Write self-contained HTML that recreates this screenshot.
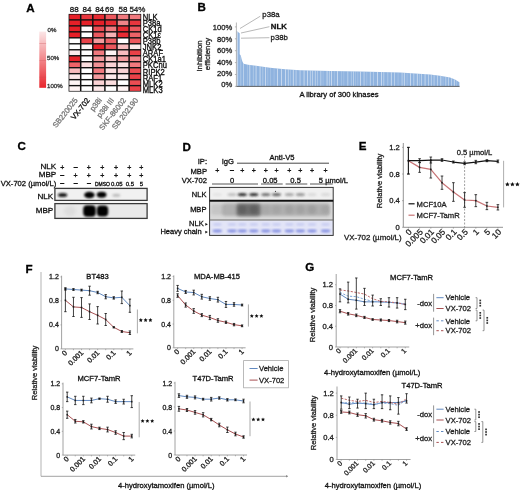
<!DOCTYPE html><html><head><meta charset="utf-8"><style>html,body{margin:0;padding:0;background:#fff;}svg{display:block;font-family:"Liberation Sans", sans-serif;filter:blur(0.35px);} text{stroke-width:0.3px;}</style></head><body>
<svg width="520" height="490" viewBox="0 0 520 490">
<rect width="520" height="490" fill="#fff"/>
<text x="26.30" y="11.60" font-size="11.6" text-anchor="start" fill="#000" font-weight="bold"  stroke="#000">A</text>
<defs><linearGradient id="cbar" x1="0" y1="0" x2="0" y2="1"><stop offset="0" stop-color="#fbe6e7"/><stop offset="1" stop-color="#e8252c"/></linearGradient></defs>
<rect x="39.30" y="31.60" width="6.80" height="56.20" fill="url(#cbar)" stroke="none" stroke-width="1" />
<line x1="39.30" y1="43.50" x2="46.10" y2="43.50" stroke="#c84a50" stroke-width="0.6" opacity="0.5"/>
<line x1="39.30" y1="60.70" x2="46.10" y2="60.70" stroke="#c84a50" stroke-width="0.6" opacity="0.5"/>
<line x1="39.30" y1="77.20" x2="46.10" y2="77.20" stroke="#c84a50" stroke-width="0.6" opacity="0.5"/>
<text x="47.60" y="31.80" font-size="6.1" text-anchor="start" fill="#333" font-weight="normal"  stroke="#333">0%</text>
<text x="47.10" y="59.70" font-size="6.1" text-anchor="start" fill="#333" font-weight="normal"  stroke="#333">50%</text>
<text x="47.10" y="88.10" font-size="6.1" text-anchor="start" fill="#333" font-weight="normal"  stroke="#333">100%</text>
<rect x="68.60" y="13.90" width="72.60" height="77.70" fill="#111" stroke="none" stroke-width="1" />
<rect x="69.35" y="14.60" width="10.60" height="4.58" fill="rgb(230,32,40)" stroke="none" stroke-width="1" />
<rect x="81.45" y="14.60" width="10.60" height="4.58" fill="rgb(232,54,62)" stroke="none" stroke-width="1" />
<rect x="93.55" y="14.60" width="10.60" height="4.58" fill="rgb(231,43,51)" stroke="none" stroke-width="1" />
<rect x="105.65" y="14.60" width="10.60" height="4.58" fill="rgb(236,88,94)" stroke="none" stroke-width="1" />
<rect x="117.75" y="14.60" width="10.60" height="4.58" fill="rgb(240,121,126)" stroke="none" stroke-width="1" />
<rect x="129.85" y="14.60" width="10.60" height="4.58" fill="rgb(240,121,126)" stroke="none" stroke-width="1" />
<rect x="69.35" y="20.58" width="10.60" height="4.58" fill="rgb(230,32,40)" stroke="none" stroke-width="1" />
<rect x="81.45" y="20.58" width="10.60" height="4.58" fill="rgb(230,32,40)" stroke="none" stroke-width="1" />
<rect x="93.55" y="20.58" width="10.60" height="4.58" fill="rgb(230,32,40)" stroke="none" stroke-width="1" />
<rect x="105.65" y="20.58" width="10.60" height="4.58" fill="rgb(231,43,51)" stroke="none" stroke-width="1" />
<rect x="117.75" y="20.58" width="10.60" height="4.58" fill="rgb(241,132,137)" stroke="none" stroke-width="1" />
<rect x="129.85" y="20.58" width="10.60" height="4.58" fill="rgb(232,54,62)" stroke="none" stroke-width="1" />
<rect x="69.35" y="26.55" width="10.60" height="4.58" fill="rgb(230,32,40)" stroke="none" stroke-width="1" />
<rect x="81.45" y="26.55" width="10.60" height="4.58" fill="rgb(254,248,249)" stroke="none" stroke-width="1" />
<rect x="93.55" y="26.55" width="10.60" height="4.58" fill="rgb(235,77,83)" stroke="none" stroke-width="1" />
<rect x="105.65" y="26.55" width="10.60" height="4.58" fill="rgb(240,121,126)" stroke="none" stroke-width="1" />
<rect x="117.75" y="26.55" width="10.60" height="4.58" fill="rgb(231,43,51)" stroke="none" stroke-width="1" />
<rect x="129.85" y="26.55" width="10.60" height="4.58" fill="rgb(236,88,94)" stroke="none" stroke-width="1" />
<rect x="69.35" y="32.53" width="10.60" height="4.58" fill="rgb(230,32,40)" stroke="none" stroke-width="1" />
<rect x="81.45" y="32.53" width="10.60" height="4.58" fill="rgb(255,255,255)" stroke="none" stroke-width="1" />
<rect x="93.55" y="32.53" width="10.60" height="4.58" fill="rgb(236,88,94)" stroke="none" stroke-width="1" />
<rect x="105.65" y="32.53" width="10.60" height="4.58" fill="rgb(246,177,180)" stroke="none" stroke-width="1" />
<rect x="117.75" y="32.53" width="10.60" height="4.58" fill="rgb(231,43,51)" stroke="none" stroke-width="1" />
<rect x="129.85" y="32.53" width="10.60" height="4.58" fill="rgb(238,99,104)" stroke="none" stroke-width="1" />
<rect x="69.35" y="38.51" width="10.60" height="4.58" fill="rgb(255,255,255)" stroke="none" stroke-width="1" />
<rect x="81.45" y="38.51" width="10.60" height="4.58" fill="rgb(234,65,72)" stroke="none" stroke-width="1" />
<rect x="93.55" y="38.51" width="10.60" height="4.58" fill="rgb(244,155,158)" stroke="none" stroke-width="1" />
<rect x="105.65" y="38.51" width="10.60" height="4.58" fill="rgb(238,99,104)" stroke="none" stroke-width="1" />
<rect x="117.75" y="38.51" width="10.60" height="4.58" fill="rgb(255,255,255)" stroke="none" stroke-width="1" />
<rect x="129.85" y="38.51" width="10.60" height="4.58" fill="rgb(236,88,94)" stroke="none" stroke-width="1" />
<rect x="69.35" y="44.48" width="10.60" height="4.58" fill="rgb(255,255,255)" stroke="none" stroke-width="1" />
<rect x="81.45" y="44.48" width="10.60" height="4.58" fill="rgb(254,244,244)" stroke="none" stroke-width="1" />
<rect x="93.55" y="44.48" width="10.60" height="4.58" fill="rgb(230,32,40)" stroke="none" stroke-width="1" />
<rect x="105.65" y="44.48" width="10.60" height="4.58" fill="rgb(236,88,94)" stroke="none" stroke-width="1" />
<rect x="117.75" y="44.48" width="10.60" height="4.58" fill="rgb(248,188,190)" stroke="none" stroke-width="1" />
<rect x="129.85" y="44.48" width="10.60" height="4.58" fill="rgb(252,233,234)" stroke="none" stroke-width="1" />
<rect x="69.35" y="50.46" width="10.60" height="4.58" fill="rgb(252,233,234)" stroke="none" stroke-width="1" />
<rect x="81.45" y="50.46" width="10.60" height="4.58" fill="rgb(255,255,255)" stroke="none" stroke-width="1" />
<rect x="93.55" y="50.46" width="10.60" height="4.58" fill="rgb(240,121,126)" stroke="none" stroke-width="1" />
<rect x="105.65" y="50.46" width="10.60" height="4.58" fill="rgb(254,244,244)" stroke="none" stroke-width="1" />
<rect x="117.75" y="50.46" width="10.60" height="4.58" fill="rgb(248,188,190)" stroke="none" stroke-width="1" />
<rect x="129.85" y="50.46" width="10.60" height="4.58" fill="rgb(234,65,72)" stroke="none" stroke-width="1" />
<rect x="69.35" y="56.44" width="10.60" height="4.58" fill="rgb(230,32,40)" stroke="none" stroke-width="1" />
<rect x="81.45" y="56.44" width="10.60" height="4.58" fill="rgb(255,255,255)" stroke="none" stroke-width="1" />
<rect x="93.55" y="56.44" width="10.60" height="4.58" fill="rgb(244,155,158)" stroke="none" stroke-width="1" />
<rect x="105.65" y="56.44" width="10.60" height="4.58" fill="rgb(249,199,201)" stroke="none" stroke-width="1" />
<rect x="117.75" y="56.44" width="10.60" height="4.58" fill="rgb(244,155,158)" stroke="none" stroke-width="1" />
<rect x="129.85" y="56.44" width="10.60" height="4.58" fill="rgb(241,132,137)" stroke="none" stroke-width="1" />
<rect x="69.35" y="62.42" width="10.60" height="4.58" fill="rgb(238,99,104)" stroke="none" stroke-width="1" />
<rect x="81.45" y="62.42" width="10.60" height="4.58" fill="rgb(251,222,223)" stroke="none" stroke-width="1" />
<rect x="93.55" y="62.42" width="10.60" height="4.58" fill="rgb(242,144,148)" stroke="none" stroke-width="1" />
<rect x="105.65" y="62.42" width="10.60" height="4.58" fill="rgb(250,210,212)" stroke="none" stroke-width="1" />
<rect x="117.75" y="62.42" width="10.60" height="4.58" fill="rgb(251,222,223)" stroke="none" stroke-width="1" />
<rect x="129.85" y="62.42" width="10.60" height="4.58" fill="rgb(240,121,126)" stroke="none" stroke-width="1" />
<rect x="69.35" y="68.39" width="10.60" height="4.58" fill="rgb(248,188,190)" stroke="none" stroke-width="1" />
<rect x="81.45" y="68.39" width="10.60" height="4.58" fill="rgb(255,255,255)" stroke="none" stroke-width="1" />
<rect x="93.55" y="68.39" width="10.60" height="4.58" fill="rgb(240,121,126)" stroke="none" stroke-width="1" />
<rect x="105.65" y="68.39" width="10.60" height="4.58" fill="rgb(251,222,223)" stroke="none" stroke-width="1" />
<rect x="117.75" y="68.39" width="10.60" height="4.58" fill="rgb(250,210,212)" stroke="none" stroke-width="1" />
<rect x="129.85" y="68.39" width="10.60" height="4.58" fill="rgb(235,77,83)" stroke="none" stroke-width="1" />
<rect x="69.35" y="74.37" width="10.60" height="4.58" fill="rgb(252,233,234)" stroke="none" stroke-width="1" />
<rect x="81.45" y="74.37" width="10.60" height="4.58" fill="rgb(255,255,255)" stroke="none" stroke-width="1" />
<rect x="93.55" y="74.37" width="10.60" height="4.58" fill="rgb(244,155,158)" stroke="none" stroke-width="1" />
<rect x="105.65" y="74.37" width="10.60" height="4.58" fill="rgb(252,233,234)" stroke="none" stroke-width="1" />
<rect x="117.75" y="74.37" width="10.60" height="4.58" fill="rgb(252,233,234)" stroke="none" stroke-width="1" />
<rect x="129.85" y="74.37" width="10.60" height="4.58" fill="rgb(234,65,72)" stroke="none" stroke-width="1" />
<rect x="69.35" y="80.35" width="10.60" height="4.58" fill="rgb(254,244,244)" stroke="none" stroke-width="1" />
<rect x="81.45" y="80.35" width="10.60" height="4.58" fill="rgb(255,255,255)" stroke="none" stroke-width="1" />
<rect x="93.55" y="80.35" width="10.60" height="4.58" fill="rgb(250,210,212)" stroke="none" stroke-width="1" />
<rect x="105.65" y="80.35" width="10.60" height="4.58" fill="rgb(251,222,223)" stroke="none" stroke-width="1" />
<rect x="117.75" y="80.35" width="10.60" height="4.58" fill="rgb(255,255,255)" stroke="none" stroke-width="1" />
<rect x="129.85" y="80.35" width="10.60" height="4.58" fill="rgb(235,77,83)" stroke="none" stroke-width="1" />
<rect x="69.35" y="86.32" width="10.60" height="4.58" fill="rgb(254,244,244)" stroke="none" stroke-width="1" />
<rect x="81.45" y="86.32" width="10.60" height="4.58" fill="rgb(255,255,255)" stroke="none" stroke-width="1" />
<rect x="93.55" y="86.32" width="10.60" height="4.58" fill="rgb(252,233,234)" stroke="none" stroke-width="1" />
<rect x="105.65" y="86.32" width="10.60" height="4.58" fill="rgb(255,255,255)" stroke="none" stroke-width="1" />
<rect x="117.75" y="86.32" width="10.60" height="4.58" fill="rgb(254,244,244)" stroke="none" stroke-width="1" />
<rect x="129.85" y="86.32" width="10.60" height="4.58" fill="rgb(234,65,72)" stroke="none" stroke-width="1" />
<text x="74.20" y="11.90" font-size="8.0" text-anchor="middle" fill="#222" font-weight="normal"  stroke="#222">88</text>
<text x="87.00" y="11.90" font-size="8.0" text-anchor="middle" fill="#222" font-weight="normal"  stroke="#222">84</text>
<text x="99.60" y="11.90" font-size="8.0" text-anchor="middle" fill="#222" font-weight="normal"  stroke="#222">84</text>
<text x="109.40" y="11.90" font-size="8.0" text-anchor="middle" fill="#222" font-weight="normal"  stroke="#222">69</text>
<text x="123.00" y="11.90" font-size="8.0" text-anchor="middle" fill="#222" font-weight="normal"  stroke="#222">58</text>
<text x="137.40" y="11.90" font-size="8.0" text-anchor="middle" fill="#222" font-weight="normal"  stroke="#222">54%</text>
<text transform="translate(142.8,19.90) scale(1,1.22)" font-size="7.6" fill="#111" stroke="#111">NLK</text>
<text transform="translate(142.8,25.97) scale(1,1.22)" font-size="7.6" fill="#111" stroke="#111">P38a</text>
<text transform="translate(142.8,32.04) scale(1,1.22)" font-size="7.6" fill="#111" stroke="#111">CK1d</text>
<text transform="translate(142.8,38.11) scale(1,1.22)" font-size="7.6" fill="#111" stroke="#111">CK1ε</text>
<text transform="translate(142.8,44.18) scale(1,1.22)" font-size="7.6" fill="#111" stroke="#111">P38b</text>
<text transform="translate(142.8,50.25) scale(1,1.22)" font-size="7.6" fill="#111" stroke="#111">JNK2</text>
<text transform="translate(142.8,56.32) scale(1,1.22)" font-size="7.6" fill="#111" stroke="#111">ARAF</text>
<text transform="translate(142.8,62.39) scale(1,1.22)" font-size="7.6" fill="#111" stroke="#111">CK1a1</text>
<text transform="translate(142.8,68.46) scale(1,1.22)" font-size="7.6" fill="#111" stroke="#111">PKCnu</text>
<text transform="translate(142.8,74.53) scale(1,1.22)" font-size="7.6" fill="#111" stroke="#111">RIPK2</text>
<text transform="translate(142.8,80.60) scale(1,1.22)" font-size="7.6" fill="#111" stroke="#111">RAF1</text>
<text transform="translate(142.8,86.67) scale(1,1.22)" font-size="7.6" fill="#111" stroke="#111">MLK2</text>
<text transform="translate(142.8,92.74) scale(1,1.22)" font-size="7.6" fill="#111" stroke="#111">MLK3</text>
<text transform="translate(78.05,100.40) rotate(-52)" font-size="7.6" text-anchor="end" fill="#777" stroke="#777">SB220025</text>
<text transform="translate(90.15,100.40) rotate(-52)" font-size="7.6" text-anchor="end" fill="#111" stroke="#111">VX-702</text>
<text transform="translate(102.25,100.40) rotate(-52)" font-size="7.6" text-anchor="end" fill="#777" stroke="#777">p38i</text>
<text transform="translate(114.35,100.40) rotate(-52)" font-size="7.6" text-anchor="end" fill="#777" stroke="#777">p38i III</text>
<text transform="translate(126.45,100.40) rotate(-52)" font-size="7.6" text-anchor="end" fill="#777" stroke="#777">SKF-86002</text>
<text transform="translate(138.55,100.40) rotate(-52)" font-size="7.6" text-anchor="end" fill="#777" stroke="#777">SB 202190</text>
<text x="197.60" y="11.20" font-size="11.6" text-anchor="start" fill="#000" font-weight="bold"  stroke="#000">B</text>
<text x="232.20" y="86.55" font-size="7.6" text-anchor="end" fill="#222" font-weight="normal"  stroke="#222">0%</text>
<line x1="234.90" y1="86.40" x2="236.40" y2="86.40" stroke="#888" stroke-width="0.6" />
<text x="232.20" y="76.35" font-size="7.6" text-anchor="end" fill="#222" font-weight="normal"  stroke="#222">20%</text>
<line x1="234.90" y1="74.50" x2="236.40" y2="74.50" stroke="#888" stroke-width="0.6" />
<text x="232.20" y="64.85" font-size="7.6" text-anchor="end" fill="#222" font-weight="normal"  stroke="#222">40%</text>
<line x1="234.90" y1="62.60" x2="236.40" y2="62.60" stroke="#888" stroke-width="0.6" />
<text x="232.20" y="52.75" font-size="7.6" text-anchor="end" fill="#222" font-weight="normal"  stroke="#222">60%</text>
<line x1="234.90" y1="50.70" x2="236.40" y2="50.70" stroke="#888" stroke-width="0.6" />
<text x="232.20" y="41.55" font-size="7.6" text-anchor="end" fill="#222" font-weight="normal"  stroke="#222">80%</text>
<line x1="234.90" y1="38.80" x2="236.40" y2="38.80" stroke="#888" stroke-width="0.6" />
<text x="232.20" y="29.65" font-size="7.6" text-anchor="end" fill="#222" font-weight="normal"  stroke="#222">100%</text>
<line x1="234.90" y1="26.90" x2="236.40" y2="26.90" stroke="#888" stroke-width="0.6" />
<text transform="translate(201.6,56) rotate(-90)" font-size="7.8" text-anchor="middle" fill="#222" stroke="#222">Inhibition</text>
<text transform="translate(210.2,54) rotate(-90)" font-size="7.8" text-anchor="middle" fill="#222" stroke="#222">efficiency</text>
<defs><clipPath id="bclip"><path d="M236.70,86.40 L236.70,31.07 L238.00,31.96 L239.70,33.15 L239.70,54.27 L240.80,55.46 L241.60,59.03 L242.60,62.01 L243.60,63.79 L248.00,64.80 L256.00,65.81 L270.00,67.66 L285.00,69.15 L300.00,70.34 L330.00,71.11 L360.00,71.53 L400.00,72.42 L430.00,74.50 L440.00,75.69 L450.00,77.59 L455.00,79.56 L459.40,82.23 L459.40,86.40 Z"/></clipPath></defs>
<path d="M236.70,86.40 L236.70,31.07 L238.00,31.96 L239.70,33.15 L239.70,54.27 L240.80,55.46 L241.60,59.03 L242.60,62.01 L243.60,63.79 L248.00,64.80 L256.00,65.81 L270.00,67.66 L285.00,69.15 L300.00,70.34 L330.00,71.11 L360.00,71.53 L400.00,72.42 L430.00,74.50 L440.00,75.69 L450.00,77.59 L455.00,79.56 L459.40,82.23 L459.40,86.40 Z" fill="#8fb3df"/>
<g clip-path="url(#bclip)">
<rect x="240.50" y="30" width="0.7" height="56.40" fill="#ffffff" opacity="0.4"/>
<rect x="243.30" y="30" width="0.7" height="56.40" fill="#ffffff" opacity="0.55"/>
<rect x="247.30" y="30" width="0.7" height="56.40" fill="#ffffff" opacity="0.25"/>
<rect x="249.50" y="30" width="0.7" height="56.40" fill="#ffffff" opacity="0.7"/>
<rect x="252.90" y="30" width="0.7" height="56.40" fill="#ffffff" opacity="0.4"/>
<rect x="255.70" y="30" width="0.7" height="56.40" fill="#ffffff" opacity="0.7"/>
<rect x="259.70" y="30" width="0.7" height="56.40" fill="#ffffff" opacity="0.7"/>
<rect x="262.50" y="30" width="0.7" height="56.40" fill="#ffffff" opacity="0.4"/>
<rect x="265.30" y="30" width="0.7" height="56.40" fill="#ffffff" opacity="0.7"/>
<rect x="267.50" y="30" width="0.7" height="56.40" fill="#ffffff" opacity="0.25"/>
<rect x="270.30" y="30" width="0.7" height="56.40" fill="#ffffff" opacity="0.25"/>
<rect x="273.70" y="30" width="0.7" height="56.40" fill="#ffffff" opacity="0.25"/>
<rect x="277.10" y="30" width="0.7" height="56.40" fill="#ffffff" opacity="0.7"/>
<rect x="281.10" y="30" width="0.7" height="56.40" fill="#ffffff" opacity="0.7"/>
<rect x="285.10" y="30" width="0.7" height="56.40" fill="#ffffff" opacity="0.7"/>
<rect x="287.90" y="30" width="0.7" height="56.40" fill="#ffffff" opacity="0.55"/>
<rect x="290.10" y="30" width="0.7" height="56.40" fill="#ffffff" opacity="0.25"/>
<rect x="292.90" y="30" width="0.7" height="56.40" fill="#ffffff" opacity="0.7"/>
<rect x="295.70" y="30" width="0.7" height="56.40" fill="#ffffff" opacity="0.55"/>
<rect x="299.70" y="30" width="0.7" height="56.40" fill="#ffffff" opacity="0.55"/>
<rect x="303.70" y="30" width="0.7" height="56.40" fill="#ffffff" opacity="0.7"/>
<rect x="307.10" y="30" width="0.7" height="56.40" fill="#ffffff" opacity="0.7"/>
<rect x="309.90" y="30" width="0.7" height="56.40" fill="#ffffff" opacity="0.55"/>
<rect x="312.10" y="30" width="0.7" height="56.40" fill="#ffffff" opacity="0.55"/>
<rect x="314.90" y="30" width="0.7" height="56.40" fill="#ffffff" opacity="0.55"/>
<rect x="317.10" y="30" width="0.7" height="56.40" fill="#ffffff" opacity="0.4"/>
<rect x="320.50" y="30" width="0.7" height="56.40" fill="#ffffff" opacity="0.55"/>
<rect x="322.70" y="30" width="0.7" height="56.40" fill="#ffffff" opacity="0.25"/>
<rect x="326.70" y="30" width="0.7" height="56.40" fill="#ffffff" opacity="0.7"/>
<rect x="328.90" y="30" width="0.7" height="56.40" fill="#ffffff" opacity="0.55"/>
<rect x="331.10" y="30" width="0.7" height="56.40" fill="#ffffff" opacity="0.7"/>
<rect x="333.90" y="30" width="0.7" height="56.40" fill="#ffffff" opacity="0.25"/>
<rect x="337.30" y="30" width="0.7" height="56.40" fill="#ffffff" opacity="0.7"/>
<rect x="341.30" y="30" width="0.7" height="56.40" fill="#ffffff" opacity="0.25"/>
<rect x="343.50" y="30" width="0.7" height="56.40" fill="#ffffff" opacity="0.25"/>
<rect x="347.50" y="30" width="0.7" height="56.40" fill="#ffffff" opacity="0.55"/>
<rect x="350.90" y="30" width="0.7" height="56.40" fill="#ffffff" opacity="0.4"/>
<rect x="353.10" y="30" width="0.7" height="56.40" fill="#ffffff" opacity="0.55"/>
<rect x="355.30" y="30" width="0.7" height="56.40" fill="#ffffff" opacity="0.25"/>
<rect x="357.50" y="30" width="0.7" height="56.40" fill="#ffffff" opacity="0.25"/>
<rect x="360.30" y="30" width="0.7" height="56.40" fill="#ffffff" opacity="0.7"/>
<rect x="363.70" y="30" width="0.7" height="56.40" fill="#ffffff" opacity="0.55"/>
<rect x="366.50" y="30" width="0.7" height="56.40" fill="#ffffff" opacity="0.25"/>
<rect x="369.90" y="30" width="0.7" height="56.40" fill="#ffffff" opacity="0.55"/>
<rect x="373.30" y="30" width="0.7" height="56.40" fill="#ffffff" opacity="0.4"/>
<rect x="377.30" y="30" width="0.7" height="56.40" fill="#ffffff" opacity="0.7"/>
<rect x="381.30" y="30" width="0.7" height="56.40" fill="#ffffff" opacity="0.7"/>
<rect x="383.50" y="30" width="0.7" height="56.40" fill="#ffffff" opacity="0.55"/>
<rect x="387.50" y="30" width="0.7" height="56.40" fill="#ffffff" opacity="0.4"/>
<rect x="390.90" y="30" width="0.7" height="56.40" fill="#ffffff" opacity="0.7"/>
<rect x="394.30" y="30" width="0.7" height="56.40" fill="#ffffff" opacity="0.55"/>
<rect x="397.70" y="30" width="0.7" height="56.40" fill="#ffffff" opacity="0.25"/>
<rect x="401.70" y="30" width="0.7" height="56.40" fill="#ffffff" opacity="0.55"/>
<rect x="403.90" y="30" width="0.7" height="56.40" fill="#ffffff" opacity="0.7"/>
<rect x="406.70" y="30" width="0.7" height="56.40" fill="#ffffff" opacity="0.25"/>
<rect x="410.10" y="30" width="0.7" height="56.40" fill="#ffffff" opacity="0.7"/>
<rect x="413.50" y="30" width="0.7" height="56.40" fill="#ffffff" opacity="0.55"/>
<rect x="416.90" y="30" width="0.7" height="56.40" fill="#ffffff" opacity="0.7"/>
<rect x="419.10" y="30" width="0.7" height="56.40" fill="#ffffff" opacity="0.25"/>
<rect x="421.30" y="30" width="0.7" height="56.40" fill="#ffffff" opacity="0.55"/>
<rect x="424.70" y="30" width="0.7" height="56.40" fill="#ffffff" opacity="0.7"/>
<rect x="428.10" y="30" width="0.7" height="56.40" fill="#ffffff" opacity="0.55"/>
<rect x="430.90" y="30" width="0.7" height="56.40" fill="#ffffff" opacity="0.55"/>
<rect x="433.70" y="30" width="0.7" height="56.40" fill="#ffffff" opacity="0.55"/>
<rect x="437.10" y="30" width="0.7" height="56.40" fill="#ffffff" opacity="0.55"/>
<rect x="440.50" y="30" width="0.7" height="56.40" fill="#ffffff" opacity="0.7"/>
<rect x="442.70" y="30" width="0.7" height="56.40" fill="#ffffff" opacity="0.25"/>
<rect x="445.50" y="30" width="0.7" height="56.40" fill="#ffffff" opacity="0.55"/>
<rect x="448.30" y="30" width="0.7" height="56.40" fill="#ffffff" opacity="0.55"/>
<rect x="451.10" y="30" width="0.7" height="56.40" fill="#ffffff" opacity="0.55"/>
<rect x="453.90" y="30" width="0.7" height="56.40" fill="#ffffff" opacity="0.7"/>
<rect x="456.10" y="30" width="0.7" height="56.40" fill="#ffffff" opacity="0.25"/>
<rect x="236.7" y="20" width="1.4" height="66.40" fill="#fff" opacity="0.45"/>
</g>
<line x1="236.40" y1="22.50" x2="236.40" y2="86.40" stroke="#999" stroke-width="0.7" />
<line x1="236.40" y1="86.40" x2="459.60" y2="86.40" stroke="#555" stroke-width="0.9" />
<line x1="240.00" y1="28.50" x2="260.30" y2="16.20" stroke="#888" stroke-width="0.6" />
<line x1="241.00" y1="33.00" x2="269.40" y2="26.70" stroke="#888" stroke-width="0.6" />
<line x1="241.00" y1="38.20" x2="269.40" y2="37.70" stroke="#888" stroke-width="0.6" />
<text x="262.30" y="17.40" font-size="7.8" text-anchor="start" fill="#222" font-weight="normal"  stroke="#222">p38a</text>
<text x="270.80" y="29.30" font-size="7.8" text-anchor="start" fill="#111" font-weight="bold"  stroke="#111">NLK</text>
<text x="270.60" y="40.30" font-size="7.8" text-anchor="start" fill="#222" font-weight="normal"  stroke="#222">p38b</text>
<text x="299.40" y="97.00" font-size="7.67" text-anchor="start" fill="#111" font-weight="normal"  stroke="#111">A library of 300 kinases</text>
<defs><filter id="bl1" x="-50%" y="-50%" width="200%" height="200%"><feGaussianBlur stdDeviation="1.1"/></filter><filter id="bl2" x="-50%" y="-50%" width="200%" height="200%"><feGaussianBlur stdDeviation="1.8"/></filter><filter id="bl3" x="-50%" y="-50%" width="200%" height="200%"><feGaussianBlur stdDeviation="0.8"/></filter></defs>
<text x="17.60" y="150.20" font-size="11.6" text-anchor="start" fill="#000" font-weight="bold"  stroke="#000">C</text>
<text x="56.20" y="169.30" font-size="8.1" text-anchor="end" fill="#111" font-weight="normal"  stroke="#111">NLK</text>
<text x="56.20" y="177.40" font-size="8.1" text-anchor="end" fill="#111" font-weight="normal"  stroke="#111">MBP</text>
<text x="56.20" y="185.80" font-size="7.6" text-anchor="end" fill="#111" font-weight="normal"  stroke="#111">VX-702 (µmol/L)</text>
<text x="62.30" y="169.60" font-size="7.0" text-anchor="middle" fill="#111" font-weight="normal"  stroke="#111">+</text>
<text x="75.60" y="169.00" font-size="7.0" text-anchor="middle" fill="#111" font-weight="normal"  stroke="#111">–</text>
<text x="88.90" y="169.60" font-size="7.0" text-anchor="middle" fill="#111" font-weight="normal"  stroke="#111">+</text>
<text x="102.40" y="169.60" font-size="7.0" text-anchor="middle" fill="#111" font-weight="normal"  stroke="#111">+</text>
<text x="116.00" y="169.60" font-size="7.0" text-anchor="middle" fill="#111" font-weight="normal"  stroke="#111">+</text>
<text x="129.30" y="169.60" font-size="7.0" text-anchor="middle" fill="#111" font-weight="normal"  stroke="#111">+</text>
<text x="141.30" y="169.60" font-size="7.0" text-anchor="middle" fill="#111" font-weight="normal"  stroke="#111">+</text>
<text x="62.30" y="177.00" font-size="7.0" text-anchor="middle" fill="#111" font-weight="normal"  stroke="#111">–</text>
<text x="75.60" y="177.80" font-size="7.0" text-anchor="middle" fill="#111" font-weight="normal"  stroke="#111">+</text>
<text x="88.90" y="177.80" font-size="7.0" text-anchor="middle" fill="#111" font-weight="normal"  stroke="#111">+</text>
<text x="102.40" y="177.80" font-size="7.0" text-anchor="middle" fill="#111" font-weight="normal"  stroke="#111">+</text>
<text x="116.00" y="177.80" font-size="7.0" text-anchor="middle" fill="#111" font-weight="normal"  stroke="#111">+</text>
<text x="129.30" y="177.80" font-size="7.0" text-anchor="middle" fill="#111" font-weight="normal"  stroke="#111">+</text>
<text x="141.30" y="177.80" font-size="7.0" text-anchor="middle" fill="#111" font-weight="normal"  stroke="#111">+</text>
<text x="62.30" y="184.60" font-size="7.0" text-anchor="middle" fill="#111" font-weight="normal"  stroke="#111">–</text>
<text x="75.60" y="184.60" font-size="7.0" text-anchor="middle" fill="#111" font-weight="normal"  stroke="#111">–</text>
<text x="88.90" y="184.60" font-size="7.0" text-anchor="middle" fill="#111" font-weight="normal"  stroke="#111">–</text>
<text x="102.40" y="185.60" font-size="5.0" text-anchor="middle" fill="#111" font-weight="normal"  stroke="#111">DMSO</text>
<text x="116.80" y="185.90" font-size="6.0" text-anchor="middle" fill="#111" font-weight="normal"  stroke="#111">0.05</text>
<text x="129.80" y="185.90" font-size="6.0" text-anchor="middle" fill="#111" font-weight="normal"  stroke="#111">0.5</text>
<text x="141.30" y="185.90" font-size="6.0" text-anchor="middle" fill="#111" font-weight="normal"  stroke="#111">5</text>
<rect x="54.90" y="188.40" width="92.20" height="12.00" fill="#f1f1f1" stroke="#3a3a3a" stroke-width="1.3" />
<g clip-path="url(#cb1)">
<defs><clipPath id="cb1"><rect x="55.5" y="189" width="91" height="10.8"/></clipPath><clipPath id="cb2"><rect x="55.5" y="204" width="91" height="14"/></clipPath></defs>
<ellipse cx="62.60" cy="195.00" rx="4.70" ry="2.10" fill="#111" opacity="0.95" filter="url(#bl3)"/>
<ellipse cx="89.40" cy="195.00" rx="5.30" ry="3.30" fill="#000" opacity="1.00" filter="url(#bl3)"/>
<ellipse cx="101.60" cy="194.80" rx="4.90" ry="3.00" fill="#000" opacity="1.00" filter="url(#bl3)"/>
<ellipse cx="116.30" cy="195.30" rx="4.00" ry="1.50" fill="#888" opacity="0.50" filter="url(#bl1)"/>
</g>
<rect x="54.90" y="203.60" width="92.20" height="14.80" fill="#e9e9e9" stroke="#3a3a3a" stroke-width="1.3" />
<g clip-path="url(#cb2)">
<rect x="83.2" y="205.2" width="12.6" height="11.6" rx="4" fill="#000" filter="url(#bl3)"/>
<rect x="96.8" y="205.4" width="11.4" height="11.2" rx="4" fill="#000" filter="url(#bl3)"/>
<ellipse cx="70.00" cy="211.00" rx="6.00" ry="5.00" fill="#bbb" opacity="0.25" filter="url(#bl2)"/>
</g>
<text x="53.20" y="198.60" font-size="8.1" text-anchor="end" fill="#111" font-weight="normal"  stroke="#111">NLK</text>
<text x="53.20" y="213.00" font-size="8.1" text-anchor="end" fill="#111" font-weight="normal"  stroke="#111">MBP</text>
<text x="182.60" y="151.30" font-size="11.6" text-anchor="start" fill="#000" font-weight="bold"  stroke="#000">D</text>
<text x="207.00" y="163.80" font-size="7.6" text-anchor="end" fill="#111" font-weight="normal"  stroke="#111">IP:</text>
<text x="227.80" y="163.80" font-size="7.6" text-anchor="middle" fill="#111" font-weight="normal"  stroke="#111">IgG</text>
<text x="282.00" y="160.40" font-size="7.6" text-anchor="middle" fill="#111" font-weight="normal"  stroke="#111">Anti-V5</text>
<line x1="237.00" y1="163.20" x2="329.00" y2="163.20" stroke="#333" stroke-width="0.9" />
<text x="207.00" y="173.50" font-size="7.6" text-anchor="end" fill="#111" font-weight="normal"  stroke="#111">MBP</text>
<text x="217.30" y="173.30" font-size="7.0" text-anchor="middle" fill="#111" font-weight="normal"  stroke="#111">+</text>
<text x="232.00" y="172.00" font-size="7.0" text-anchor="middle" fill="#111" font-weight="normal"  stroke="#111">–</text>
<text x="242.30" y="173.30" font-size="7.0" text-anchor="middle" fill="#111" font-weight="normal"  stroke="#111">+</text>
<text x="253.80" y="173.30" font-size="7.0" text-anchor="middle" fill="#111" font-weight="normal"  stroke="#111">+</text>
<text x="265.80" y="173.30" font-size="7.0" text-anchor="middle" fill="#111" font-weight="normal"  stroke="#111">+</text>
<text x="276.50" y="173.30" font-size="7.0" text-anchor="middle" fill="#111" font-weight="normal"  stroke="#111">+</text>
<text x="289.40" y="173.30" font-size="7.0" text-anchor="middle" fill="#111" font-weight="normal"  stroke="#111">+</text>
<text x="300.40" y="173.30" font-size="7.0" text-anchor="middle" fill="#111" font-weight="normal"  stroke="#111">+</text>
<text x="312.00" y="173.30" font-size="7.0" text-anchor="middle" fill="#111" font-weight="normal"  stroke="#111">+</text>
<text x="325.60" y="173.30" font-size="7.0" text-anchor="middle" fill="#111" font-weight="normal"  stroke="#111">+</text>
<text x="207.00" y="182.80" font-size="7.6" text-anchor="end" fill="#111" font-weight="normal"  stroke="#111">VX-702</text>
<text x="232.00" y="182.60" font-size="7.6" text-anchor="middle" fill="#111" font-weight="normal"  stroke="#111">0</text>
<text x="270.20" y="182.60" font-size="7.6" text-anchor="middle" fill="#111" font-weight="normal"  stroke="#111">0.05</text>
<text x="295.60" y="182.60" font-size="7.6" text-anchor="middle" fill="#111" font-weight="normal"  stroke="#111">0.5</text>
<text x="318.80" y="182.60" font-size="7.6" text-anchor="start" fill="#111" font-weight="normal"  stroke="#111">5 µmol/L</text>
<line x1="212.00" y1="184.00" x2="258.00" y2="184.00" stroke="#444" stroke-width="0.9" />
<line x1="261.00" y1="184.00" x2="282.70" y2="184.00" stroke="#444" stroke-width="0.9" />
<line x1="285.60" y1="184.00" x2="307.30" y2="184.00" stroke="#444" stroke-width="0.9" />
<line x1="310.00" y1="184.00" x2="332.70" y2="184.00" stroke="#444" stroke-width="0.9" />
<defs><clipPath id="db1"><rect x="209.6" y="187.6" width="123.6" height="12.2"/></clipPath><clipPath id="db2"><rect x="209.6" y="201.6" width="123.6" height="17.6"/></clipPath><clipPath id="db3"><rect x="209.6" y="220.8" width="123.6" height="14.6"/></clipPath><linearGradient id="dg2" x1="0" y1="0" x2="1" y2="0"><stop offset="0" stop-color="#c8c8c8"/><stop offset="0.85" stop-color="#b6b6b6"/><stop offset="1" stop-color="#d2d2d2"/></linearGradient></defs>
<rect x="209.60" y="187.40" width="123.60" height="12.60" fill="#f0f0f0" stroke="none" stroke-width="1" />
<g clip-path="url(#db1)">
<ellipse cx="217.30" cy="194.60" rx="4.70" ry="1.60" fill="#222" opacity="0.05" filter="url(#bl1)"/>
<ellipse cx="232.00" cy="194.60" rx="4.70" ry="1.60" fill="#222" opacity="0.22" filter="url(#bl1)"/>
<ellipse cx="242.30" cy="194.60" rx="4.70" ry="1.60" fill="#222" opacity="0.92" filter="url(#bl1)"/>
<ellipse cx="253.80" cy="194.60" rx="4.70" ry="1.60" fill="#222" opacity="0.92" filter="url(#bl1)"/>
<ellipse cx="265.80" cy="194.60" rx="4.70" ry="1.60" fill="#222" opacity="0.60" filter="url(#bl1)"/>
<ellipse cx="276.50" cy="194.60" rx="4.70" ry="1.60" fill="#222" opacity="0.65" filter="url(#bl1)"/>
<ellipse cx="289.40" cy="194.60" rx="4.70" ry="1.60" fill="#222" opacity="0.35" filter="url(#bl1)"/>
<ellipse cx="300.40" cy="194.60" rx="4.70" ry="1.60" fill="#222" opacity="0.42" filter="url(#bl1)"/>
<ellipse cx="312.00" cy="194.60" rx="4.70" ry="1.60" fill="#222" opacity="0.10" filter="url(#bl1)"/>
<ellipse cx="325.60" cy="194.60" rx="4.70" ry="1.60" fill="#222" opacity="0.10" filter="url(#bl1)"/>
<path d="M275.5,190.5 l0.6,1.6 l-1.2,0 z" fill="#222"/>
</g>
<rect x="209.60" y="201.60" width="123.60" height="17.80" fill="#d9d9d9" stroke="none" stroke-width="1" />
<g clip-path="url(#db2)">
<rect x="222" y="203.6" width="108" height="12.4" rx="3" fill="#8c8c8c" opacity="0.55" filter="url(#bl2)"/>
<rect x="211" y="204" width="12" height="11" rx="3" fill="#9a9a9a" opacity="0.3" filter="url(#bl2)"/>
<rect x="236.5" y="203.4" width="24" height="12.8" rx="3" fill="#3c3c3c" opacity="0.55" filter="url(#bl2)"/>
<ellipse cx="217.30" cy="209.50" rx="4.25" ry="4.50" fill="#333" opacity="0.00" filter="url(#bl2)"/>
<ellipse cx="232.00" cy="209.50" rx="4.25" ry="4.50" fill="#333" opacity="0.00" filter="url(#bl2)"/>
<ellipse cx="242.30" cy="209.50" rx="4.25" ry="4.50" fill="#333" opacity="0.25" filter="url(#bl2)"/>
<ellipse cx="253.80" cy="209.50" rx="4.25" ry="4.50" fill="#333" opacity="0.25" filter="url(#bl2)"/>
<ellipse cx="265.80" cy="209.50" rx="4.25" ry="4.50" fill="#333" opacity="0.05" filter="url(#bl2)"/>
<ellipse cx="276.50" cy="209.50" rx="4.25" ry="4.50" fill="#333" opacity="0.08" filter="url(#bl2)"/>
<ellipse cx="289.40" cy="209.50" rx="4.25" ry="4.50" fill="#333" opacity="0.10" filter="url(#bl2)"/>
<ellipse cx="300.40" cy="209.50" rx="4.25" ry="4.50" fill="#333" opacity="0.10" filter="url(#bl2)"/>
<ellipse cx="312.00" cy="209.50" rx="4.25" ry="4.50" fill="#333" opacity="0.12" filter="url(#bl2)"/>
<ellipse cx="325.60" cy="209.50" rx="4.25" ry="4.50" fill="#333" opacity="0.08" filter="url(#bl2)"/>
</g>
<rect x="209.60" y="220.80" width="123.60" height="14.60" fill="#e3e5f7" stroke="none" stroke-width="1" />
<g clip-path="url(#db3)">
<ellipse cx="217.30" cy="231.00" rx="4.80" ry="1.40" fill="#6a78dc" opacity="0.80" filter="url(#bl3)"/>
<ellipse cx="217.30" cy="224.40" rx="4.30" ry="1.10" fill="#a0a8e8" opacity="0.50" filter="url(#bl3)"/>
<ellipse cx="232.00" cy="231.00" rx="4.80" ry="1.40" fill="#6a78dc" opacity="0.80" filter="url(#bl3)"/>
<ellipse cx="232.00" cy="224.40" rx="4.30" ry="1.10" fill="#a0a8e8" opacity="0.50" filter="url(#bl3)"/>
<ellipse cx="242.30" cy="231.00" rx="4.80" ry="1.40" fill="#6a78dc" opacity="0.80" filter="url(#bl3)"/>
<ellipse cx="242.30" cy="224.40" rx="4.30" ry="1.10" fill="#a0a8e8" opacity="0.50" filter="url(#bl3)"/>
<ellipse cx="253.80" cy="231.00" rx="4.80" ry="1.40" fill="#6a78dc" opacity="0.80" filter="url(#bl3)"/>
<ellipse cx="253.80" cy="224.40" rx="4.30" ry="1.10" fill="#a0a8e8" opacity="0.50" filter="url(#bl3)"/>
<ellipse cx="265.80" cy="231.00" rx="4.80" ry="1.40" fill="#6a78dc" opacity="0.80" filter="url(#bl3)"/>
<ellipse cx="265.80" cy="224.40" rx="4.30" ry="1.10" fill="#a0a8e8" opacity="0.50" filter="url(#bl3)"/>
<ellipse cx="276.50" cy="231.00" rx="4.80" ry="1.40" fill="#6a78dc" opacity="0.80" filter="url(#bl3)"/>
<ellipse cx="276.50" cy="224.40" rx="4.30" ry="1.10" fill="#a0a8e8" opacity="0.50" filter="url(#bl3)"/>
<ellipse cx="289.40" cy="231.00" rx="4.80" ry="1.40" fill="#6a78dc" opacity="0.80" filter="url(#bl3)"/>
<ellipse cx="289.40" cy="224.40" rx="4.30" ry="1.10" fill="#a0a8e8" opacity="0.50" filter="url(#bl3)"/>
<ellipse cx="300.40" cy="231.00" rx="4.80" ry="1.40" fill="#6a78dc" opacity="0.80" filter="url(#bl3)"/>
<ellipse cx="300.40" cy="224.40" rx="4.30" ry="1.10" fill="#a0a8e8" opacity="0.50" filter="url(#bl3)"/>
<ellipse cx="312.00" cy="231.00" rx="4.80" ry="1.40" fill="#6a78dc" opacity="0.80" filter="url(#bl3)"/>
<ellipse cx="312.00" cy="224.40" rx="4.30" ry="1.10" fill="#a0a8e8" opacity="0.50" filter="url(#bl3)"/>
<ellipse cx="325.60" cy="231.00" rx="4.80" ry="1.40" fill="#6a78dc" opacity="0.80" filter="url(#bl3)"/>
<ellipse cx="325.60" cy="224.40" rx="4.30" ry="1.10" fill="#a0a8e8" opacity="0.50" filter="url(#bl3)"/>
</g>
<rect x="209.60" y="187.40" width="123.60" height="48.00" fill="none" stroke="#333" stroke-width="1.0" />
<line x1="209.60" y1="200.80" x2="333.20" y2="200.80" stroke="#111" stroke-width="2.0" />
<line x1="209.60" y1="220.00" x2="333.20" y2="220.00" stroke="#555" stroke-width="1.2" />
<text x="206.40" y="196.50" font-size="7.5" text-anchor="end" fill="#111" font-weight="normal"  stroke="#111">NLK</text>
<text x="206.40" y="212.00" font-size="7.5" text-anchor="end" fill="#111" font-weight="normal"  stroke="#111">MBP</text>
<text x="203.70" y="226.20" font-size="7.5" text-anchor="end" fill="#111" font-weight="normal"  stroke="#111">NLK</text>
<text x="201.70" y="234.20" font-size="7.5" text-anchor="end" fill="#111" font-weight="normal"  stroke="#111">Heavy chain</text>
<path d="M205.3,222.9 l2.6,1.4 l-2.6,1.4 z" fill="#111"/>
<path d="M205.3,230.7 l2.6,1.4 l-2.6,1.4 z" fill="#111"/>
<text x="358.80" y="149.50" font-size="11.6" text-anchor="start" fill="#000" font-weight="bold"  stroke="#000">E</text>
<line x1="464.60" y1="156.00" x2="464.60" y2="227.00" stroke="#777" stroke-width="0.7" stroke-dasharray="2,1.5"/>
<line x1="403.30" y1="143.00" x2="403.30" y2="227.30" stroke="#777" stroke-width="0.8" />
<line x1="403.30" y1="227.30" x2="503.00" y2="227.30" stroke="#777" stroke-width="0.8" />
<text x="399.80" y="150.12" font-size="7.6" text-anchor="end" fill="#222" font-weight="normal"  stroke="#222">1.2</text>
<line x1="402.10" y1="147.38" x2="403.30" y2="147.38" stroke="#777" stroke-width="0.6" />
<text x="399.80" y="176.76" font-size="7.6" text-anchor="end" fill="#222" font-weight="normal"  stroke="#222">0.8</text>
<line x1="402.10" y1="174.02" x2="403.30" y2="174.02" stroke="#777" stroke-width="0.6" />
<text x="399.80" y="203.40" font-size="7.6" text-anchor="end" fill="#222" font-weight="normal"  stroke="#222">0.4</text>
<line x1="402.10" y1="200.66" x2="403.30" y2="200.66" stroke="#777" stroke-width="0.6" />
<text x="399.80" y="230.04" font-size="7.6" text-anchor="end" fill="#222" font-weight="normal"  stroke="#222">0</text>
<line x1="402.10" y1="227.30" x2="403.30" y2="227.30" stroke="#777" stroke-width="0.6" />
<line x1="408.40" y1="227.30" x2="408.40" y2="228.60" stroke="#777" stroke-width="0.6" />
<line x1="419.60" y1="227.30" x2="419.60" y2="228.60" stroke="#777" stroke-width="0.6" />
<line x1="430.80" y1="227.30" x2="430.80" y2="228.60" stroke="#777" stroke-width="0.6" />
<line x1="442.00" y1="227.30" x2="442.00" y2="228.60" stroke="#777" stroke-width="0.6" />
<line x1="453.40" y1="227.30" x2="453.40" y2="228.60" stroke="#777" stroke-width="0.6" />
<line x1="464.60" y1="227.30" x2="464.60" y2="228.60" stroke="#777" stroke-width="0.6" />
<line x1="475.80" y1="227.30" x2="475.80" y2="228.60" stroke="#777" stroke-width="0.6" />
<line x1="486.90" y1="227.30" x2="486.90" y2="228.60" stroke="#777" stroke-width="0.6" />
<line x1="497.90" y1="227.30" x2="497.90" y2="228.60" stroke="#777" stroke-width="0.6" />
<polyline points="408.40,160.70 419.60,167.36 430.80,169.36 442.00,182.68 453.40,192.00 464.60,199.99 475.80,200.66 486.90,205.99 497.90,207.32" stroke="#c77375" stroke-width="1.2" fill="none"  stroke-linejoin="round"/>
<polyline points="408.40,160.70 419.60,160.70 430.80,160.03 442.00,160.03 453.40,162.03 464.60,163.36 475.80,162.03 486.90,160.70 497.90,161.37" stroke="#111" stroke-width="1.2" fill="none"  stroke-linejoin="round"/>
<line x1="408.40" y1="147.38" x2="408.40" y2="174.02" stroke="#111" stroke-width="0.8" />
<line x1="407.10" y1="147.38" x2="409.70" y2="147.38" stroke="#111" stroke-width="0.8" />
<line x1="407.10" y1="174.02" x2="409.70" y2="174.02" stroke="#111" stroke-width="0.8" />
<rect x="407.60" y="159.90" width="1.6" height="1.6" fill="#111" opacity="0.8"/>
<line x1="419.60" y1="162.37" x2="419.60" y2="172.36" stroke="#111" stroke-width="0.8" />
<line x1="418.30" y1="162.37" x2="420.90" y2="162.37" stroke="#111" stroke-width="0.8" />
<line x1="418.30" y1="172.36" x2="420.90" y2="172.36" stroke="#111" stroke-width="0.8" />
<rect x="418.80" y="166.56" width="1.6" height="1.6" fill="#111" opacity="0.8"/>
<line x1="430.80" y1="160.70" x2="430.80" y2="178.02" stroke="#111" stroke-width="0.8" />
<line x1="429.50" y1="160.70" x2="432.10" y2="160.70" stroke="#111" stroke-width="0.8" />
<line x1="429.50" y1="178.02" x2="432.10" y2="178.02" stroke="#111" stroke-width="0.8" />
<rect x="430.00" y="168.56" width="1.6" height="1.6" fill="#111" opacity="0.8"/>
<line x1="442.00" y1="176.02" x2="442.00" y2="189.34" stroke="#111" stroke-width="0.8" />
<line x1="440.70" y1="176.02" x2="443.30" y2="176.02" stroke="#111" stroke-width="0.8" />
<line x1="440.70" y1="189.34" x2="443.30" y2="189.34" stroke="#111" stroke-width="0.8" />
<rect x="441.20" y="181.88" width="1.6" height="1.6" fill="#111" opacity="0.8"/>
<line x1="453.40" y1="182.68" x2="453.40" y2="201.33" stroke="#111" stroke-width="0.8" />
<line x1="452.10" y1="182.68" x2="454.70" y2="182.68" stroke="#111" stroke-width="0.8" />
<line x1="452.10" y1="201.33" x2="454.70" y2="201.33" stroke="#111" stroke-width="0.8" />
<rect x="452.60" y="191.20" width="1.6" height="1.6" fill="#111" opacity="0.8"/>
<line x1="464.60" y1="192.67" x2="464.60" y2="207.32" stroke="#111" stroke-width="0.8" />
<line x1="463.30" y1="192.67" x2="465.90" y2="192.67" stroke="#111" stroke-width="0.8" />
<line x1="463.30" y1="207.32" x2="465.90" y2="207.32" stroke="#111" stroke-width="0.8" />
<rect x="463.80" y="199.19" width="1.6" height="1.6" fill="#111" opacity="0.8"/>
<line x1="475.80" y1="194.67" x2="475.80" y2="206.65" stroke="#111" stroke-width="0.8" />
<line x1="474.50" y1="194.67" x2="477.10" y2="194.67" stroke="#111" stroke-width="0.8" />
<line x1="474.50" y1="206.65" x2="477.10" y2="206.65" stroke="#111" stroke-width="0.8" />
<rect x="475.00" y="199.86" width="1.6" height="1.6" fill="#111" opacity="0.8"/>
<line x1="486.90" y1="202.33" x2="486.90" y2="209.65" stroke="#111" stroke-width="0.8" />
<line x1="485.60" y1="202.33" x2="488.20" y2="202.33" stroke="#111" stroke-width="0.8" />
<line x1="485.60" y1="209.65" x2="488.20" y2="209.65" stroke="#111" stroke-width="0.8" />
<rect x="486.10" y="205.19" width="1.6" height="1.6" fill="#111" opacity="0.8"/>
<line x1="497.90" y1="204.66" x2="497.90" y2="209.98" stroke="#111" stroke-width="0.8" />
<line x1="496.60" y1="204.66" x2="499.20" y2="204.66" stroke="#111" stroke-width="0.8" />
<line x1="496.60" y1="209.98" x2="499.20" y2="209.98" stroke="#111" stroke-width="0.8" />
<rect x="497.10" y="206.52" width="1.6" height="1.6" fill="#111" opacity="0.8"/>
<line x1="408.40" y1="147.38" x2="408.40" y2="174.02" stroke="#111" stroke-width="0.8" />
<line x1="407.10" y1="147.38" x2="409.70" y2="147.38" stroke="#111" stroke-width="0.8" />
<line x1="407.10" y1="174.02" x2="409.70" y2="174.02" stroke="#111" stroke-width="0.8" />
<rect x="407.60" y="159.90" width="1.6" height="1.6" fill="#111" opacity="0.8"/>
<line x1="419.60" y1="158.70" x2="419.60" y2="162.70" stroke="#111" stroke-width="0.8" />
<line x1="418.30" y1="158.70" x2="420.90" y2="158.70" stroke="#111" stroke-width="0.8" />
<line x1="418.30" y1="162.70" x2="420.90" y2="162.70" stroke="#111" stroke-width="0.8" />
<rect x="418.80" y="159.90" width="1.6" height="1.6" fill="#111" opacity="0.8"/>
<line x1="430.80" y1="157.04" x2="430.80" y2="163.03" stroke="#111" stroke-width="0.8" />
<line x1="429.50" y1="157.04" x2="432.10" y2="157.04" stroke="#111" stroke-width="0.8" />
<line x1="429.50" y1="163.03" x2="432.10" y2="163.03" stroke="#111" stroke-width="0.8" />
<rect x="430.00" y="159.23" width="1.6" height="1.6" fill="#111" opacity="0.8"/>
<line x1="442.00" y1="158.70" x2="442.00" y2="161.37" stroke="#111" stroke-width="0.8" />
<line x1="440.70" y1="158.70" x2="443.30" y2="158.70" stroke="#111" stroke-width="0.8" />
<line x1="440.70" y1="161.37" x2="443.30" y2="161.37" stroke="#111" stroke-width="0.8" />
<rect x="441.20" y="159.23" width="1.6" height="1.6" fill="#111" opacity="0.8"/>
<line x1="453.40" y1="161.03" x2="453.40" y2="163.03" stroke="#111" stroke-width="0.8" />
<line x1="452.10" y1="161.03" x2="454.70" y2="161.03" stroke="#111" stroke-width="0.8" />
<line x1="452.10" y1="163.03" x2="454.70" y2="163.03" stroke="#111" stroke-width="0.8" />
<rect x="452.60" y="161.23" width="1.6" height="1.6" fill="#111" opacity="0.8"/>
<line x1="464.60" y1="162.03" x2="464.60" y2="164.70" stroke="#111" stroke-width="0.8" />
<line x1="463.30" y1="162.03" x2="465.90" y2="162.03" stroke="#111" stroke-width="0.8" />
<line x1="463.30" y1="164.70" x2="465.90" y2="164.70" stroke="#111" stroke-width="0.8" />
<rect x="463.80" y="162.56" width="1.6" height="1.6" fill="#111" opacity="0.8"/>
<line x1="475.80" y1="160.37" x2="475.80" y2="163.70" stroke="#111" stroke-width="0.8" />
<line x1="474.50" y1="160.37" x2="477.10" y2="160.37" stroke="#111" stroke-width="0.8" />
<line x1="474.50" y1="163.70" x2="477.10" y2="163.70" stroke="#111" stroke-width="0.8" />
<rect x="475.00" y="161.23" width="1.6" height="1.6" fill="#111" opacity="0.8"/>
<line x1="486.90" y1="159.70" x2="486.90" y2="161.70" stroke="#111" stroke-width="0.8" />
<line x1="485.60" y1="159.70" x2="488.20" y2="159.70" stroke="#111" stroke-width="0.8" />
<line x1="485.60" y1="161.70" x2="488.20" y2="161.70" stroke="#111" stroke-width="0.8" />
<rect x="486.10" y="159.90" width="1.6" height="1.6" fill="#111" opacity="0.8"/>
<line x1="497.90" y1="160.03" x2="497.90" y2="162.70" stroke="#111" stroke-width="0.8" />
<line x1="496.60" y1="160.03" x2="499.20" y2="160.03" stroke="#111" stroke-width="0.8" />
<line x1="496.60" y1="162.70" x2="499.20" y2="162.70" stroke="#111" stroke-width="0.8" />
<rect x="497.10" y="160.57" width="1.6" height="1.6" fill="#111" opacity="0.8"/>
<text transform="translate(412.20,232.60) rotate(-45)" font-size="8.3" text-anchor="end" fill="#222" stroke="#222">0</text>
<text transform="translate(423.40,232.60) rotate(-45)" font-size="8.3" text-anchor="end" fill="#222" stroke="#222">0.005</text>
<text transform="translate(434.60,232.60) rotate(-45)" font-size="8.3" text-anchor="end" fill="#222" stroke="#222">0.01</text>
<text transform="translate(445.80,232.60) rotate(-45)" font-size="8.3" text-anchor="end" fill="#222" stroke="#222">0.05</text>
<text transform="translate(457.20,232.60) rotate(-45)" font-size="8.3" text-anchor="end" fill="#222" stroke="#222">0.1</text>
<text transform="translate(468.40,232.60) rotate(-45)" font-size="8.3" text-anchor="end" fill="#222" stroke="#222">0.5</text>
<text transform="translate(479.60,232.60) rotate(-45)" font-size="8.3" text-anchor="end" fill="#222" stroke="#222">1</text>
<text transform="translate(490.70,232.60) rotate(-45)" font-size="8.3" text-anchor="end" fill="#222" stroke="#222">5</text>
<text transform="translate(501.70,232.60) rotate(-45)" font-size="8.3" text-anchor="end" fill="#222" stroke="#222">10</text>
<text transform="translate(381.6,181) rotate(-90)" font-size="7.6" text-anchor="middle" fill="#222" stroke="#222">Relative viability</text>
<text x="474.50" y="154.60" font-size="7.6" text-anchor="middle" fill="#222" font-weight="normal"  stroke="#222">0.5 µmol/L</text>
<line x1="503.60" y1="160.80" x2="503.60" y2="207.40" stroke="#999" stroke-width="0.8" />
<polygon points="507.40,182.00 508.11,183.43 509.68,183.66 508.54,184.77 508.81,186.34 507.40,185.60 505.99,186.34 506.26,184.77 505.12,183.66 506.69,183.43" fill="#111"/>
<polygon points="512.40,182.00 513.11,183.43 514.68,183.66 513.54,184.77 513.81,186.34 512.40,185.60 510.99,186.34 511.26,184.77 510.12,183.66 511.69,183.43" fill="#111"/>
<polygon points="517.40,182.00 518.11,183.43 519.68,183.66 518.54,184.77 518.81,186.34 517.40,185.60 515.99,186.34 516.26,184.77 515.12,183.66 516.69,183.43" fill="#111"/>
<line x1="408.50" y1="203.80" x2="414.60" y2="203.80" stroke="#111" stroke-width="1.2" />
<text x="416.60" y="206.50" font-size="7.6" text-anchor="start" fill="#222" font-weight="normal"  stroke="#222">MCF10A</text>
<line x1="408.50" y1="215.20" x2="414.60" y2="215.20" stroke="#c77375" stroke-width="1.2" />
<text x="416.60" y="217.90" font-size="7.6" text-anchor="start" fill="#222" font-weight="normal"  stroke="#222">MCF7-TamR</text>
<text x="401.60" y="240.40" font-size="7.9" text-anchor="end" fill="#222" font-weight="normal"  stroke="#222">VX-702 (µmol/L)</text>
<text x="25.60" y="273.40" font-size="11.6" text-anchor="start" fill="#000" font-weight="bold"  stroke="#000">F</text>
<line x1="41.00" y1="272.00" x2="41.00" y2="476.30" stroke="#aaa" stroke-width="0.9" />
<line x1="41.00" y1="476.30" x2="287.50" y2="476.30" stroke="#999" stroke-width="0.9" />
<path d="M286,475 l2.2,1.3 l-2.2,1.3 z" fill="#888"/>
<text transform="translate(37.3,373) rotate(-90)" font-size="7.6" text-anchor="middle" fill="#222" stroke="#222">Relative viability</text>
<text x="166.30" y="487.60" font-size="7.6" text-anchor="middle" fill="#111" font-weight="normal"  stroke="#111">4-hydroxytamoxifen (µmol/L)</text>
<line x1="61.60" y1="275.70" x2="61.60" y2="348.90" stroke="#8a8a8a" stroke-width="0.8" />
<line x1="61.60" y1="348.90" x2="133.38" y2="348.90" stroke="#8a8a8a" stroke-width="0.8" />
<text x="58.80" y="279.42" font-size="7.0" text-anchor="end" fill="#222" font-weight="normal"  stroke="#222">1.2</text>
<line x1="60.40" y1="276.90" x2="61.60" y2="276.90" stroke="#8a8a8a" stroke-width="0.6" />
<text x="58.80" y="303.42" font-size="7.0" text-anchor="end" fill="#222" font-weight="normal"  stroke="#222">0.8</text>
<line x1="60.40" y1="300.90" x2="61.60" y2="300.90" stroke="#8a8a8a" stroke-width="0.6" />
<text x="58.80" y="327.42" font-size="7.0" text-anchor="end" fill="#222" font-weight="normal"  stroke="#222">0.4</text>
<line x1="60.40" y1="324.90" x2="61.60" y2="324.90" stroke="#8a8a8a" stroke-width="0.6" />
<text x="58.80" y="351.42" font-size="7.0" text-anchor="end" fill="#222" font-weight="normal"  stroke="#222">0</text>
<line x1="60.40" y1="348.90" x2="61.60" y2="348.90" stroke="#8a8a8a" stroke-width="0.6" />
<line x1="65.40" y1="348.90" x2="65.40" y2="350.20" stroke="#8a8a8a" stroke-width="0.6" />
<line x1="73.46" y1="348.90" x2="73.46" y2="350.20" stroke="#8a8a8a" stroke-width="0.6" />
<line x1="81.52" y1="348.90" x2="81.52" y2="350.20" stroke="#8a8a8a" stroke-width="0.6" />
<line x1="89.58" y1="348.90" x2="89.58" y2="350.20" stroke="#8a8a8a" stroke-width="0.6" />
<line x1="97.64" y1="348.90" x2="97.64" y2="350.20" stroke="#8a8a8a" stroke-width="0.6" />
<line x1="105.70" y1="348.90" x2="105.70" y2="350.20" stroke="#8a8a8a" stroke-width="0.6" />
<line x1="113.76" y1="348.90" x2="113.76" y2="350.20" stroke="#8a8a8a" stroke-width="0.6" />
<line x1="121.82" y1="348.90" x2="121.82" y2="350.20" stroke="#8a8a8a" stroke-width="0.6" />
<line x1="129.88" y1="348.90" x2="129.88" y2="350.20" stroke="#8a8a8a" stroke-width="0.6" />
<polyline points="65.40,288.90 73.46,289.50 81.52,290.10 89.58,290.70 97.64,292.50 105.70,296.70 113.76,297.90 121.82,297.30 129.88,305.70" stroke="#6189c0" stroke-width="1.0" fill="none"  stroke-linejoin="round"/>
<polyline points="65.40,300.30 73.46,306.90 81.52,307.50 89.58,311.70 97.64,315.30 105.70,319.50 113.76,327.30 121.82,331.50 129.88,332.70" stroke="#a85052" stroke-width="1.0" fill="none"  stroke-linejoin="round"/>
<line x1="65.40" y1="287.70" x2="65.40" y2="290.10" stroke="#111" stroke-width="0.8" />
<line x1="64.20" y1="287.70" x2="66.60" y2="287.70" stroke="#111" stroke-width="0.8" />
<line x1="64.20" y1="290.10" x2="66.60" y2="290.10" stroke="#111" stroke-width="0.8" />
<rect x="64.60" y="288.10" width="1.6" height="1.6" fill="#111" opacity="0.8"/>
<line x1="73.46" y1="288.60" x2="73.46" y2="290.40" stroke="#111" stroke-width="0.8" />
<line x1="72.26" y1="288.60" x2="74.66" y2="288.60" stroke="#111" stroke-width="0.8" />
<line x1="72.26" y1="290.40" x2="74.66" y2="290.40" stroke="#111" stroke-width="0.8" />
<rect x="72.66" y="288.70" width="1.6" height="1.6" fill="#111" opacity="0.8"/>
<line x1="81.52" y1="289.20" x2="81.52" y2="291.00" stroke="#111" stroke-width="0.8" />
<line x1="80.32" y1="289.20" x2="82.72" y2="289.20" stroke="#111" stroke-width="0.8" />
<line x1="80.32" y1="291.00" x2="82.72" y2="291.00" stroke="#111" stroke-width="0.8" />
<rect x="80.72" y="289.30" width="1.6" height="1.6" fill="#111" opacity="0.8"/>
<line x1="89.58" y1="286.20" x2="89.58" y2="295.20" stroke="#111" stroke-width="0.8" />
<line x1="88.38" y1="286.20" x2="90.78" y2="286.20" stroke="#111" stroke-width="0.8" />
<line x1="88.38" y1="295.20" x2="90.78" y2="295.20" stroke="#111" stroke-width="0.8" />
<rect x="88.78" y="289.90" width="1.6" height="1.6" fill="#111" opacity="0.8"/>
<line x1="97.64" y1="291.30" x2="97.64" y2="293.70" stroke="#111" stroke-width="0.8" />
<line x1="96.44" y1="291.30" x2="98.84" y2="291.30" stroke="#111" stroke-width="0.8" />
<line x1="96.44" y1="293.70" x2="98.84" y2="293.70" stroke="#111" stroke-width="0.8" />
<rect x="96.84" y="291.70" width="1.6" height="1.6" fill="#111" opacity="0.8"/>
<line x1="105.70" y1="294.60" x2="105.70" y2="298.80" stroke="#111" stroke-width="0.8" />
<line x1="104.50" y1="294.60" x2="106.90" y2="294.60" stroke="#111" stroke-width="0.8" />
<line x1="104.50" y1="298.80" x2="106.90" y2="298.80" stroke="#111" stroke-width="0.8" />
<rect x="104.90" y="295.90" width="1.6" height="1.6" fill="#111" opacity="0.8"/>
<line x1="113.76" y1="296.70" x2="113.76" y2="299.10" stroke="#111" stroke-width="0.8" />
<line x1="112.56" y1="296.70" x2="114.96" y2="296.70" stroke="#111" stroke-width="0.8" />
<line x1="112.56" y1="299.10" x2="114.96" y2="299.10" stroke="#111" stroke-width="0.8" />
<rect x="112.96" y="297.10" width="1.6" height="1.6" fill="#111" opacity="0.8"/>
<line x1="121.82" y1="291.00" x2="121.82" y2="303.60" stroke="#111" stroke-width="0.8" />
<line x1="120.62" y1="291.00" x2="123.02" y2="291.00" stroke="#111" stroke-width="0.8" />
<line x1="120.62" y1="303.60" x2="123.02" y2="303.60" stroke="#111" stroke-width="0.8" />
<rect x="121.02" y="296.50" width="1.6" height="1.6" fill="#111" opacity="0.8"/>
<line x1="129.88" y1="299.10" x2="129.88" y2="312.30" stroke="#111" stroke-width="0.8" />
<line x1="128.68" y1="299.10" x2="131.08" y2="299.10" stroke="#111" stroke-width="0.8" />
<line x1="128.68" y1="312.30" x2="131.08" y2="312.30" stroke="#111" stroke-width="0.8" />
<rect x="129.08" y="304.90" width="1.6" height="1.6" fill="#111" opacity="0.8"/>
<line x1="65.40" y1="288.90" x2="65.40" y2="311.70" stroke="#111" stroke-width="0.8" />
<line x1="64.20" y1="288.90" x2="66.60" y2="288.90" stroke="#111" stroke-width="0.8" />
<line x1="64.20" y1="311.70" x2="66.60" y2="311.70" stroke="#111" stroke-width="0.8" />
<rect x="64.60" y="299.50" width="1.6" height="1.6" fill="#111" opacity="0.8"/>
<line x1="73.46" y1="297.30" x2="73.46" y2="316.50" stroke="#111" stroke-width="0.8" />
<line x1="72.26" y1="297.30" x2="74.66" y2="297.30" stroke="#111" stroke-width="0.8" />
<line x1="72.26" y1="316.50" x2="74.66" y2="316.50" stroke="#111" stroke-width="0.8" />
<rect x="72.66" y="306.10" width="1.6" height="1.6" fill="#111" opacity="0.8"/>
<line x1="81.52" y1="297.60" x2="81.52" y2="317.40" stroke="#111" stroke-width="0.8" />
<line x1="80.32" y1="297.60" x2="82.72" y2="297.60" stroke="#111" stroke-width="0.8" />
<line x1="80.32" y1="317.40" x2="82.72" y2="317.40" stroke="#111" stroke-width="0.8" />
<rect x="80.72" y="306.70" width="1.6" height="1.6" fill="#111" opacity="0.8"/>
<line x1="89.58" y1="303.90" x2="89.58" y2="319.50" stroke="#111" stroke-width="0.8" />
<line x1="88.38" y1="303.90" x2="90.78" y2="303.90" stroke="#111" stroke-width="0.8" />
<line x1="88.38" y1="319.50" x2="90.78" y2="319.50" stroke="#111" stroke-width="0.8" />
<rect x="88.78" y="310.90" width="1.6" height="1.6" fill="#111" opacity="0.8"/>
<line x1="97.64" y1="306.60" x2="97.64" y2="324.00" stroke="#111" stroke-width="0.8" />
<line x1="96.44" y1="306.60" x2="98.84" y2="306.60" stroke="#111" stroke-width="0.8" />
<line x1="96.44" y1="324.00" x2="98.84" y2="324.00" stroke="#111" stroke-width="0.8" />
<rect x="96.84" y="314.50" width="1.6" height="1.6" fill="#111" opacity="0.8"/>
<line x1="105.70" y1="313.50" x2="105.70" y2="325.50" stroke="#111" stroke-width="0.8" />
<line x1="104.50" y1="313.50" x2="106.90" y2="313.50" stroke="#111" stroke-width="0.8" />
<line x1="104.50" y1="325.50" x2="106.90" y2="325.50" stroke="#111" stroke-width="0.8" />
<rect x="104.90" y="318.70" width="1.6" height="1.6" fill="#111" opacity="0.8"/>
<line x1="113.76" y1="326.70" x2="113.76" y2="327.90" stroke="#111" stroke-width="0.8" />
<line x1="112.56" y1="326.70" x2="114.96" y2="326.70" stroke="#111" stroke-width="0.8" />
<line x1="112.56" y1="327.90" x2="114.96" y2="327.90" stroke="#111" stroke-width="0.8" />
<rect x="112.96" y="326.50" width="1.6" height="1.6" fill="#111" opacity="0.8"/>
<line x1="121.82" y1="330.60" x2="121.82" y2="332.40" stroke="#111" stroke-width="0.8" />
<line x1="120.62" y1="330.60" x2="123.02" y2="330.60" stroke="#111" stroke-width="0.8" />
<line x1="120.62" y1="332.40" x2="123.02" y2="332.40" stroke="#111" stroke-width="0.8" />
<rect x="121.02" y="330.70" width="1.6" height="1.6" fill="#111" opacity="0.8"/>
<line x1="129.88" y1="330.90" x2="129.88" y2="334.50" stroke="#111" stroke-width="0.8" />
<line x1="128.68" y1="330.90" x2="131.08" y2="330.90" stroke="#111" stroke-width="0.8" />
<line x1="128.68" y1="334.50" x2="131.08" y2="334.50" stroke="#111" stroke-width="0.8" />
<rect x="129.08" y="331.90" width="1.6" height="1.6" fill="#111" opacity="0.8"/>
<text transform="translate(67.60,353.30) rotate(-45)" font-size="7.2" text-anchor="end" fill="#222" stroke="#222">0</text>
<text transform="translate(83.72,353.30) rotate(-45)" font-size="7.2" text-anchor="end" fill="#222" stroke="#222">0.001</text>
<text transform="translate(99.84,353.30) rotate(-45)" font-size="7.2" text-anchor="end" fill="#222" stroke="#222">0.01</text>
<text transform="translate(115.96,353.30) rotate(-45)" font-size="7.2" text-anchor="end" fill="#222" stroke="#222">0.1</text>
<text transform="translate(132.08,353.30) rotate(-45)" font-size="7.2" text-anchor="end" fill="#222" stroke="#222">1</text>
<text x="97.50" y="279.35" font-size="7.6" text-anchor="middle" fill="#111" font-weight="normal"  stroke="#111">BT483</text>
<line x1="137.40" y1="309.50" x2="137.40" y2="333.30" stroke="#888" stroke-width="0.7" />
<polygon points="140.80,318.10 141.42,319.35 142.80,319.55 141.80,320.52 142.03,321.90 140.80,321.25 139.57,321.90 139.80,320.52 138.80,319.55 140.18,319.35" fill="#111"/>
<polygon points="145.60,318.10 146.22,319.35 147.60,319.55 146.60,320.52 146.83,321.90 145.60,321.25 144.37,321.90 144.60,320.52 143.60,319.55 144.98,319.35" fill="#111"/>
<polygon points="150.40,318.10 151.02,319.35 152.40,319.55 151.40,320.52 151.63,321.90 150.40,321.25 149.17,321.90 149.40,320.52 148.40,319.55 149.78,319.35" fill="#111"/>
<line x1="173.80" y1="275.33" x2="173.80" y2="347.80" stroke="#8a8a8a" stroke-width="0.8" />
<line x1="173.80" y1="347.80" x2="245.58" y2="347.80" stroke="#8a8a8a" stroke-width="0.8" />
<text x="171.00" y="279.04" font-size="7.0" text-anchor="end" fill="#222" font-weight="normal"  stroke="#222">1.2</text>
<line x1="172.60" y1="276.52" x2="173.80" y2="276.52" stroke="#8a8a8a" stroke-width="0.6" />
<text x="171.00" y="302.80" font-size="7.0" text-anchor="end" fill="#222" font-weight="normal"  stroke="#222">0.8</text>
<line x1="172.60" y1="300.28" x2="173.80" y2="300.28" stroke="#8a8a8a" stroke-width="0.6" />
<text x="171.00" y="326.56" font-size="7.0" text-anchor="end" fill="#222" font-weight="normal"  stroke="#222">0.4</text>
<line x1="172.60" y1="324.04" x2="173.80" y2="324.04" stroke="#8a8a8a" stroke-width="0.6" />
<text x="171.00" y="350.32" font-size="7.0" text-anchor="end" fill="#222" font-weight="normal"  stroke="#222">0</text>
<line x1="172.60" y1="347.80" x2="173.80" y2="347.80" stroke="#8a8a8a" stroke-width="0.6" />
<line x1="177.60" y1="347.80" x2="177.60" y2="349.10" stroke="#8a8a8a" stroke-width="0.6" />
<line x1="185.66" y1="347.80" x2="185.66" y2="349.10" stroke="#8a8a8a" stroke-width="0.6" />
<line x1="193.72" y1="347.80" x2="193.72" y2="349.10" stroke="#8a8a8a" stroke-width="0.6" />
<line x1="201.78" y1="347.80" x2="201.78" y2="349.10" stroke="#8a8a8a" stroke-width="0.6" />
<line x1="209.84" y1="347.80" x2="209.84" y2="349.10" stroke="#8a8a8a" stroke-width="0.6" />
<line x1="217.90" y1="347.80" x2="217.90" y2="349.10" stroke="#8a8a8a" stroke-width="0.6" />
<line x1="225.96" y1="347.80" x2="225.96" y2="349.10" stroke="#8a8a8a" stroke-width="0.6" />
<line x1="234.02" y1="347.80" x2="234.02" y2="349.10" stroke="#8a8a8a" stroke-width="0.6" />
<line x1="242.08" y1="347.80" x2="242.08" y2="349.10" stroke="#8a8a8a" stroke-width="0.6" />
<polyline points="177.60,288.40 185.66,291.96 193.72,292.56 201.78,296.72 209.84,298.50 217.90,299.69 225.96,304.44 234.02,304.44 242.08,305.03" stroke="#6189c0" stroke-width="1.0" fill="none"  stroke-linejoin="round"/>
<polyline points="177.60,295.53 185.66,305.03 193.72,310.97 201.78,315.13 209.84,317.51 217.90,320.48 225.96,322.26 234.02,324.63 242.08,325.82" stroke="#a85052" stroke-width="1.0" fill="none"  stroke-linejoin="round"/>
<line x1="177.60" y1="285.43" x2="177.60" y2="291.37" stroke="#111" stroke-width="0.8" />
<line x1="176.40" y1="285.43" x2="178.80" y2="285.43" stroke="#111" stroke-width="0.8" />
<line x1="176.40" y1="291.37" x2="178.80" y2="291.37" stroke="#111" stroke-width="0.8" />
<rect x="176.80" y="287.60" width="1.6" height="1.6" fill="#111" opacity="0.8"/>
<line x1="185.66" y1="290.48" x2="185.66" y2="293.45" stroke="#111" stroke-width="0.8" />
<line x1="184.46" y1="290.48" x2="186.86" y2="290.48" stroke="#111" stroke-width="0.8" />
<line x1="184.46" y1="293.45" x2="186.86" y2="293.45" stroke="#111" stroke-width="0.8" />
<rect x="184.86" y="291.16" width="1.6" height="1.6" fill="#111" opacity="0.8"/>
<line x1="193.72" y1="290.18" x2="193.72" y2="294.93" stroke="#111" stroke-width="0.8" />
<line x1="192.52" y1="290.18" x2="194.92" y2="290.18" stroke="#111" stroke-width="0.8" />
<line x1="192.52" y1="294.93" x2="194.92" y2="294.93" stroke="#111" stroke-width="0.8" />
<rect x="192.92" y="291.76" width="1.6" height="1.6" fill="#111" opacity="0.8"/>
<line x1="201.78" y1="294.34" x2="201.78" y2="299.09" stroke="#111" stroke-width="0.8" />
<line x1="200.58" y1="294.34" x2="202.98" y2="294.34" stroke="#111" stroke-width="0.8" />
<line x1="200.58" y1="299.09" x2="202.98" y2="299.09" stroke="#111" stroke-width="0.8" />
<rect x="200.98" y="295.92" width="1.6" height="1.6" fill="#111" opacity="0.8"/>
<line x1="209.84" y1="296.72" x2="209.84" y2="300.28" stroke="#111" stroke-width="0.8" />
<line x1="208.64" y1="296.72" x2="211.04" y2="296.72" stroke="#111" stroke-width="0.8" />
<line x1="208.64" y1="300.28" x2="211.04" y2="300.28" stroke="#111" stroke-width="0.8" />
<rect x="209.04" y="297.70" width="1.6" height="1.6" fill="#111" opacity="0.8"/>
<line x1="217.90" y1="297.31" x2="217.90" y2="302.06" stroke="#111" stroke-width="0.8" />
<line x1="216.70" y1="297.31" x2="219.10" y2="297.31" stroke="#111" stroke-width="0.8" />
<line x1="216.70" y1="302.06" x2="219.10" y2="302.06" stroke="#111" stroke-width="0.8" />
<rect x="217.10" y="298.89" width="1.6" height="1.6" fill="#111" opacity="0.8"/>
<line x1="225.96" y1="301.47" x2="225.96" y2="307.41" stroke="#111" stroke-width="0.8" />
<line x1="224.76" y1="301.47" x2="227.16" y2="301.47" stroke="#111" stroke-width="0.8" />
<line x1="224.76" y1="307.41" x2="227.16" y2="307.41" stroke="#111" stroke-width="0.8" />
<rect x="225.16" y="303.64" width="1.6" height="1.6" fill="#111" opacity="0.8"/>
<line x1="234.02" y1="302.66" x2="234.02" y2="306.22" stroke="#111" stroke-width="0.8" />
<line x1="232.82" y1="302.66" x2="235.22" y2="302.66" stroke="#111" stroke-width="0.8" />
<line x1="232.82" y1="306.22" x2="235.22" y2="306.22" stroke="#111" stroke-width="0.8" />
<rect x="233.22" y="303.64" width="1.6" height="1.6" fill="#111" opacity="0.8"/>
<line x1="242.08" y1="304.14" x2="242.08" y2="305.92" stroke="#111" stroke-width="0.8" />
<line x1="240.88" y1="304.14" x2="243.28" y2="304.14" stroke="#111" stroke-width="0.8" />
<line x1="240.88" y1="305.92" x2="243.28" y2="305.92" stroke="#111" stroke-width="0.8" />
<rect x="241.28" y="304.23" width="1.6" height="1.6" fill="#111" opacity="0.8"/>
<line x1="177.60" y1="293.75" x2="177.60" y2="297.31" stroke="#111" stroke-width="0.8" />
<line x1="176.40" y1="293.75" x2="178.80" y2="293.75" stroke="#111" stroke-width="0.8" />
<line x1="176.40" y1="297.31" x2="178.80" y2="297.31" stroke="#111" stroke-width="0.8" />
<rect x="176.80" y="294.73" width="1.6" height="1.6" fill="#111" opacity="0.8"/>
<line x1="185.66" y1="302.95" x2="185.66" y2="307.11" stroke="#111" stroke-width="0.8" />
<line x1="184.46" y1="302.95" x2="186.86" y2="302.95" stroke="#111" stroke-width="0.8" />
<line x1="184.46" y1="307.11" x2="186.86" y2="307.11" stroke="#111" stroke-width="0.8" />
<rect x="184.86" y="304.23" width="1.6" height="1.6" fill="#111" opacity="0.8"/>
<line x1="193.72" y1="308.60" x2="193.72" y2="313.35" stroke="#111" stroke-width="0.8" />
<line x1="192.52" y1="308.60" x2="194.92" y2="308.60" stroke="#111" stroke-width="0.8" />
<line x1="192.52" y1="313.35" x2="194.92" y2="313.35" stroke="#111" stroke-width="0.8" />
<rect x="192.92" y="310.17" width="1.6" height="1.6" fill="#111" opacity="0.8"/>
<line x1="201.78" y1="313.64" x2="201.78" y2="316.62" stroke="#111" stroke-width="0.8" />
<line x1="200.58" y1="313.64" x2="202.98" y2="313.64" stroke="#111" stroke-width="0.8" />
<line x1="200.58" y1="316.62" x2="202.98" y2="316.62" stroke="#111" stroke-width="0.8" />
<rect x="200.98" y="314.33" width="1.6" height="1.6" fill="#111" opacity="0.8"/>
<line x1="209.84" y1="315.43" x2="209.84" y2="319.59" stroke="#111" stroke-width="0.8" />
<line x1="208.64" y1="315.43" x2="211.04" y2="315.43" stroke="#111" stroke-width="0.8" />
<line x1="208.64" y1="319.59" x2="211.04" y2="319.59" stroke="#111" stroke-width="0.8" />
<rect x="209.04" y="316.71" width="1.6" height="1.6" fill="#111" opacity="0.8"/>
<line x1="217.90" y1="318.69" x2="217.90" y2="322.26" stroke="#111" stroke-width="0.8" />
<line x1="216.70" y1="318.69" x2="219.10" y2="318.69" stroke="#111" stroke-width="0.8" />
<line x1="216.70" y1="322.26" x2="219.10" y2="322.26" stroke="#111" stroke-width="0.8" />
<rect x="217.10" y="319.68" width="1.6" height="1.6" fill="#111" opacity="0.8"/>
<line x1="225.96" y1="321.07" x2="225.96" y2="323.45" stroke="#111" stroke-width="0.8" />
<line x1="224.76" y1="321.07" x2="227.16" y2="321.07" stroke="#111" stroke-width="0.8" />
<line x1="224.76" y1="323.45" x2="227.16" y2="323.45" stroke="#111" stroke-width="0.8" />
<rect x="225.16" y="321.46" width="1.6" height="1.6" fill="#111" opacity="0.8"/>
<line x1="234.02" y1="323.45" x2="234.02" y2="325.82" stroke="#111" stroke-width="0.8" />
<line x1="232.82" y1="323.45" x2="235.22" y2="323.45" stroke="#111" stroke-width="0.8" />
<line x1="232.82" y1="325.82" x2="235.22" y2="325.82" stroke="#111" stroke-width="0.8" />
<rect x="233.22" y="323.83" width="1.6" height="1.6" fill="#111" opacity="0.8"/>
<line x1="242.08" y1="324.93" x2="242.08" y2="326.71" stroke="#111" stroke-width="0.8" />
<line x1="240.88" y1="324.93" x2="243.28" y2="324.93" stroke="#111" stroke-width="0.8" />
<line x1="240.88" y1="326.71" x2="243.28" y2="326.71" stroke="#111" stroke-width="0.8" />
<rect x="241.28" y="325.02" width="1.6" height="1.6" fill="#111" opacity="0.8"/>
<text transform="translate(179.80,352.20) rotate(-45)" font-size="7.2" text-anchor="end" fill="#222" stroke="#222">0</text>
<text transform="translate(195.92,352.20) rotate(-45)" font-size="7.2" text-anchor="end" fill="#222" stroke="#222">0.001</text>
<text transform="translate(212.04,352.20) rotate(-45)" font-size="7.2" text-anchor="end" fill="#222" stroke="#222">0.01</text>
<text transform="translate(228.16,352.20) rotate(-45)" font-size="7.2" text-anchor="end" fill="#222" stroke="#222">0.1</text>
<text transform="translate(244.28,352.20) rotate(-45)" font-size="7.2" text-anchor="end" fill="#222" stroke="#222">1</text>
<text x="217.00" y="279.35" font-size="7.6" text-anchor="middle" fill="#111" font-weight="normal"  stroke="#111">MDA-MB-415</text>
<line x1="248.40" y1="304.40" x2="248.40" y2="326.60" stroke="#888" stroke-width="0.7" />
<polygon points="251.80,313.90 252.42,315.15 253.80,315.35 252.80,316.32 253.03,317.70 251.80,317.05 250.57,317.70 250.80,316.32 249.80,315.35 251.18,315.15" fill="#111"/>
<polygon points="256.60,313.90 257.22,315.15 258.60,315.35 257.60,316.32 257.83,317.70 256.60,317.05 255.37,317.70 255.60,316.32 254.60,315.35 255.98,315.15" fill="#111"/>
<polygon points="261.40,313.90 262.02,315.15 263.40,315.35 262.40,316.32 262.63,317.70 261.40,317.05 260.17,317.70 260.40,316.32 259.40,315.35 260.78,315.15" fill="#111"/>
<line x1="63.00" y1="382.63" x2="63.00" y2="455.10" stroke="#8a8a8a" stroke-width="0.8" />
<line x1="63.00" y1="455.10" x2="135.26" y2="455.10" stroke="#8a8a8a" stroke-width="0.8" />
<text x="60.20" y="386.34" font-size="7.0" text-anchor="end" fill="#222" font-weight="normal"  stroke="#222">1.2</text>
<line x1="61.80" y1="383.82" x2="63.00" y2="383.82" stroke="#8a8a8a" stroke-width="0.6" />
<text x="60.20" y="410.10" font-size="7.0" text-anchor="end" fill="#222" font-weight="normal"  stroke="#222">0.8</text>
<line x1="61.80" y1="407.58" x2="63.00" y2="407.58" stroke="#8a8a8a" stroke-width="0.6" />
<text x="60.20" y="433.86" font-size="7.0" text-anchor="end" fill="#222" font-weight="normal"  stroke="#222">0.4</text>
<line x1="61.80" y1="431.34" x2="63.00" y2="431.34" stroke="#8a8a8a" stroke-width="0.6" />
<text x="60.20" y="457.62" font-size="7.0" text-anchor="end" fill="#222" font-weight="normal"  stroke="#222">0</text>
<line x1="61.80" y1="455.10" x2="63.00" y2="455.10" stroke="#8a8a8a" stroke-width="0.6" />
<line x1="67.20" y1="455.10" x2="67.20" y2="456.40" stroke="#8a8a8a" stroke-width="0.6" />
<line x1="75.27" y1="455.10" x2="75.27" y2="456.40" stroke="#8a8a8a" stroke-width="0.6" />
<line x1="83.34" y1="455.10" x2="83.34" y2="456.40" stroke="#8a8a8a" stroke-width="0.6" />
<line x1="91.41" y1="455.10" x2="91.41" y2="456.40" stroke="#8a8a8a" stroke-width="0.6" />
<line x1="99.48" y1="455.10" x2="99.48" y2="456.40" stroke="#8a8a8a" stroke-width="0.6" />
<line x1="107.55" y1="455.10" x2="107.55" y2="456.40" stroke="#8a8a8a" stroke-width="0.6" />
<line x1="115.62" y1="455.10" x2="115.62" y2="456.40" stroke="#8a8a8a" stroke-width="0.6" />
<line x1="123.69" y1="455.10" x2="123.69" y2="456.40" stroke="#8a8a8a" stroke-width="0.6" />
<line x1="131.76" y1="455.10" x2="131.76" y2="456.40" stroke="#8a8a8a" stroke-width="0.6" />
<polyline points="67.20,396.89 75.27,400.45 83.34,400.45 91.41,400.45 99.48,398.67 107.55,399.26 115.62,401.64 123.69,401.64 131.76,401.64" stroke="#6189c0" stroke-width="1.0" fill="none"  stroke-linejoin="round"/>
<polyline points="67.20,414.71 75.27,421.24 83.34,421.84 91.41,426.59 99.48,428.37 107.55,429.56 115.62,432.53 123.69,436.09 131.76,436.09" stroke="#a85052" stroke-width="1.0" fill="none"  stroke-linejoin="round"/>
<line x1="67.20" y1="392.14" x2="67.20" y2="401.64" stroke="#111" stroke-width="0.8" />
<line x1="66.00" y1="392.14" x2="68.40" y2="392.14" stroke="#111" stroke-width="0.8" />
<line x1="66.00" y1="401.64" x2="68.40" y2="401.64" stroke="#111" stroke-width="0.8" />
<rect x="66.40" y="396.09" width="1.6" height="1.6" fill="#111" opacity="0.8"/>
<line x1="75.27" y1="396.29" x2="75.27" y2="404.61" stroke="#111" stroke-width="0.8" />
<line x1="74.07" y1="396.29" x2="76.47" y2="396.29" stroke="#111" stroke-width="0.8" />
<line x1="74.07" y1="404.61" x2="76.47" y2="404.61" stroke="#111" stroke-width="0.8" />
<rect x="74.47" y="399.65" width="1.6" height="1.6" fill="#111" opacity="0.8"/>
<line x1="83.34" y1="396.29" x2="83.34" y2="404.61" stroke="#111" stroke-width="0.8" />
<line x1="82.14" y1="396.29" x2="84.54" y2="396.29" stroke="#111" stroke-width="0.8" />
<line x1="82.14" y1="404.61" x2="84.54" y2="404.61" stroke="#111" stroke-width="0.8" />
<rect x="82.54" y="399.65" width="1.6" height="1.6" fill="#111" opacity="0.8"/>
<line x1="91.41" y1="398.08" x2="91.41" y2="402.83" stroke="#111" stroke-width="0.8" />
<line x1="90.21" y1="398.08" x2="92.61" y2="398.08" stroke="#111" stroke-width="0.8" />
<line x1="90.21" y1="402.83" x2="92.61" y2="402.83" stroke="#111" stroke-width="0.8" />
<rect x="90.61" y="399.65" width="1.6" height="1.6" fill="#111" opacity="0.8"/>
<line x1="99.48" y1="398.08" x2="99.48" y2="399.26" stroke="#111" stroke-width="0.8" />
<line x1="98.28" y1="398.08" x2="100.68" y2="398.08" stroke="#111" stroke-width="0.8" />
<line x1="98.28" y1="399.26" x2="100.68" y2="399.26" stroke="#111" stroke-width="0.8" />
<rect x="98.68" y="397.87" width="1.6" height="1.6" fill="#111" opacity="0.8"/>
<line x1="107.55" y1="396.29" x2="107.55" y2="402.23" stroke="#111" stroke-width="0.8" />
<line x1="106.35" y1="396.29" x2="108.75" y2="396.29" stroke="#111" stroke-width="0.8" />
<line x1="106.35" y1="402.23" x2="108.75" y2="402.23" stroke="#111" stroke-width="0.8" />
<rect x="106.75" y="398.46" width="1.6" height="1.6" fill="#111" opacity="0.8"/>
<line x1="115.62" y1="399.86" x2="115.62" y2="403.42" stroke="#111" stroke-width="0.8" />
<line x1="114.42" y1="399.86" x2="116.82" y2="399.86" stroke="#111" stroke-width="0.8" />
<line x1="114.42" y1="403.42" x2="116.82" y2="403.42" stroke="#111" stroke-width="0.8" />
<rect x="114.82" y="400.84" width="1.6" height="1.6" fill="#111" opacity="0.8"/>
<line x1="123.69" y1="399.26" x2="123.69" y2="404.02" stroke="#111" stroke-width="0.8" />
<line x1="122.49" y1="399.26" x2="124.89" y2="399.26" stroke="#111" stroke-width="0.8" />
<line x1="122.49" y1="404.02" x2="124.89" y2="404.02" stroke="#111" stroke-width="0.8" />
<rect x="122.89" y="400.84" width="1.6" height="1.6" fill="#111" opacity="0.8"/>
<line x1="131.76" y1="395.70" x2="131.76" y2="407.58" stroke="#111" stroke-width="0.8" />
<line x1="130.56" y1="395.70" x2="132.96" y2="395.70" stroke="#111" stroke-width="0.8" />
<line x1="130.56" y1="407.58" x2="132.96" y2="407.58" stroke="#111" stroke-width="0.8" />
<rect x="130.96" y="400.84" width="1.6" height="1.6" fill="#111" opacity="0.8"/>
<line x1="67.20" y1="411.14" x2="67.20" y2="418.27" stroke="#111" stroke-width="0.8" />
<line x1="66.00" y1="411.14" x2="68.40" y2="411.14" stroke="#111" stroke-width="0.8" />
<line x1="66.00" y1="418.27" x2="68.40" y2="418.27" stroke="#111" stroke-width="0.8" />
<rect x="66.40" y="413.91" width="1.6" height="1.6" fill="#111" opacity="0.8"/>
<line x1="75.27" y1="419.46" x2="75.27" y2="423.02" stroke="#111" stroke-width="0.8" />
<line x1="74.07" y1="419.46" x2="76.47" y2="419.46" stroke="#111" stroke-width="0.8" />
<line x1="74.07" y1="423.02" x2="76.47" y2="423.02" stroke="#111" stroke-width="0.8" />
<rect x="74.47" y="420.44" width="1.6" height="1.6" fill="#111" opacity="0.8"/>
<line x1="83.34" y1="420.65" x2="83.34" y2="423.02" stroke="#111" stroke-width="0.8" />
<line x1="82.14" y1="420.65" x2="84.54" y2="420.65" stroke="#111" stroke-width="0.8" />
<line x1="82.14" y1="423.02" x2="84.54" y2="423.02" stroke="#111" stroke-width="0.8" />
<rect x="82.54" y="421.04" width="1.6" height="1.6" fill="#111" opacity="0.8"/>
<line x1="91.41" y1="424.21" x2="91.41" y2="428.96" stroke="#111" stroke-width="0.8" />
<line x1="90.21" y1="424.21" x2="92.61" y2="424.21" stroke="#111" stroke-width="0.8" />
<line x1="90.21" y1="428.96" x2="92.61" y2="428.96" stroke="#111" stroke-width="0.8" />
<rect x="90.61" y="425.79" width="1.6" height="1.6" fill="#111" opacity="0.8"/>
<line x1="99.48" y1="427.18" x2="99.48" y2="429.56" stroke="#111" stroke-width="0.8" />
<line x1="98.28" y1="427.18" x2="100.68" y2="427.18" stroke="#111" stroke-width="0.8" />
<line x1="98.28" y1="429.56" x2="100.68" y2="429.56" stroke="#111" stroke-width="0.8" />
<rect x="98.68" y="427.57" width="1.6" height="1.6" fill="#111" opacity="0.8"/>
<line x1="107.55" y1="427.18" x2="107.55" y2="431.93" stroke="#111" stroke-width="0.8" />
<line x1="106.35" y1="427.18" x2="108.75" y2="427.18" stroke="#111" stroke-width="0.8" />
<line x1="106.35" y1="431.93" x2="108.75" y2="431.93" stroke="#111" stroke-width="0.8" />
<rect x="106.75" y="428.76" width="1.6" height="1.6" fill="#111" opacity="0.8"/>
<line x1="115.62" y1="430.75" x2="115.62" y2="434.31" stroke="#111" stroke-width="0.8" />
<line x1="114.42" y1="430.75" x2="116.82" y2="430.75" stroke="#111" stroke-width="0.8" />
<line x1="114.42" y1="434.31" x2="116.82" y2="434.31" stroke="#111" stroke-width="0.8" />
<rect x="114.82" y="431.73" width="1.6" height="1.6" fill="#111" opacity="0.8"/>
<line x1="123.69" y1="432.53" x2="123.69" y2="439.66" stroke="#111" stroke-width="0.8" />
<line x1="122.49" y1="432.53" x2="124.89" y2="432.53" stroke="#111" stroke-width="0.8" />
<line x1="122.49" y1="439.66" x2="124.89" y2="439.66" stroke="#111" stroke-width="0.8" />
<rect x="122.89" y="435.29" width="1.6" height="1.6" fill="#111" opacity="0.8"/>
<line x1="131.76" y1="434.31" x2="131.76" y2="437.87" stroke="#111" stroke-width="0.8" />
<line x1="130.56" y1="434.31" x2="132.96" y2="434.31" stroke="#111" stroke-width="0.8" />
<line x1="130.56" y1="437.87" x2="132.96" y2="437.87" stroke="#111" stroke-width="0.8" />
<rect x="130.96" y="435.29" width="1.6" height="1.6" fill="#111" opacity="0.8"/>
<text transform="translate(69.40,459.50) rotate(-45)" font-size="7.2" text-anchor="end" fill="#222" stroke="#222">0</text>
<text transform="translate(85.54,459.50) rotate(-45)" font-size="7.2" text-anchor="end" fill="#222" stroke="#222">0.001</text>
<text transform="translate(101.68,459.50) rotate(-45)" font-size="7.2" text-anchor="end" fill="#222" stroke="#222">0.01</text>
<text transform="translate(117.82,459.50) rotate(-45)" font-size="7.2" text-anchor="end" fill="#222" stroke="#222">0.1</text>
<text transform="translate(133.96,459.50) rotate(-45)" font-size="7.2" text-anchor="end" fill="#222" stroke="#222">1</text>
<text x="99.00" y="380.55" font-size="7.6" text-anchor="middle" fill="#111" font-weight="normal"  stroke="#111">MCF7-TamR</text>
<line x1="139.20" y1="402.00" x2="139.20" y2="437.30" stroke="#888" stroke-width="0.7" />
<polygon points="142.60,418.90 143.22,420.15 144.60,420.35 143.60,421.32 143.83,422.70 142.60,422.05 141.37,422.70 141.60,421.32 140.60,420.35 141.98,420.15" fill="#111"/>
<polygon points="147.40,418.90 148.02,420.15 149.40,420.35 148.40,421.32 148.63,422.70 147.40,422.05 146.17,422.70 146.40,421.32 145.40,420.35 146.78,420.15" fill="#111"/>
<polygon points="152.20,418.90 152.82,420.15 154.20,420.35 153.20,421.32 153.43,422.70 152.20,422.05 150.97,422.70 151.20,421.32 150.20,420.35 151.58,420.15" fill="#111"/>
<line x1="175.00" y1="381.80" x2="175.00" y2="455.00" stroke="#8a8a8a" stroke-width="0.8" />
<line x1="175.00" y1="455.00" x2="247.04" y2="455.00" stroke="#8a8a8a" stroke-width="0.8" />
<text x="172.20" y="385.52" font-size="7.0" text-anchor="end" fill="#222" font-weight="normal"  stroke="#222">1.2</text>
<line x1="173.80" y1="383.00" x2="175.00" y2="383.00" stroke="#8a8a8a" stroke-width="0.6" />
<text x="172.20" y="409.52" font-size="7.0" text-anchor="end" fill="#222" font-weight="normal"  stroke="#222">0.8</text>
<line x1="173.80" y1="407.00" x2="175.00" y2="407.00" stroke="#8a8a8a" stroke-width="0.6" />
<text x="172.20" y="433.52" font-size="7.0" text-anchor="end" fill="#222" font-weight="normal"  stroke="#222">0.4</text>
<line x1="173.80" y1="431.00" x2="175.00" y2="431.00" stroke="#8a8a8a" stroke-width="0.6" />
<text x="172.20" y="457.52" font-size="7.0" text-anchor="end" fill="#222" font-weight="normal"  stroke="#222">0</text>
<line x1="173.80" y1="455.00" x2="175.00" y2="455.00" stroke="#8a8a8a" stroke-width="0.6" />
<line x1="178.90" y1="455.00" x2="178.90" y2="456.30" stroke="#8a8a8a" stroke-width="0.6" />
<line x1="186.98" y1="455.00" x2="186.98" y2="456.30" stroke="#8a8a8a" stroke-width="0.6" />
<line x1="195.06" y1="455.00" x2="195.06" y2="456.30" stroke="#8a8a8a" stroke-width="0.6" />
<line x1="203.14" y1="455.00" x2="203.14" y2="456.30" stroke="#8a8a8a" stroke-width="0.6" />
<line x1="211.22" y1="455.00" x2="211.22" y2="456.30" stroke="#8a8a8a" stroke-width="0.6" />
<line x1="219.30" y1="455.00" x2="219.30" y2="456.30" stroke="#8a8a8a" stroke-width="0.6" />
<line x1="227.38" y1="455.00" x2="227.38" y2="456.30" stroke="#8a8a8a" stroke-width="0.6" />
<line x1="235.46" y1="455.00" x2="235.46" y2="456.30" stroke="#8a8a8a" stroke-width="0.6" />
<line x1="243.54" y1="455.00" x2="243.54" y2="456.30" stroke="#8a8a8a" stroke-width="0.6" />
<polyline points="178.90,395.60 186.98,396.80 195.06,397.40 203.14,399.20 211.22,399.20 219.30,398.00 227.38,399.80 235.46,399.80 243.54,401.00" stroke="#6189c0" stroke-width="1.0" fill="none"  stroke-linejoin="round"/>
<polyline points="178.90,408.80 186.98,410.00 195.06,412.40 203.14,414.80 211.22,419.60 219.30,425.00 227.38,429.80 235.46,434.00 243.54,437.00" stroke="#a85052" stroke-width="1.0" fill="none"  stroke-linejoin="round"/>
<line x1="178.90" y1="393.80" x2="178.90" y2="397.40" stroke="#111" stroke-width="0.8" />
<line x1="177.70" y1="393.80" x2="180.10" y2="393.80" stroke="#111" stroke-width="0.8" />
<line x1="177.70" y1="397.40" x2="180.10" y2="397.40" stroke="#111" stroke-width="0.8" />
<rect x="178.10" y="394.80" width="1.6" height="1.6" fill="#111" opacity="0.8"/>
<line x1="186.98" y1="395.30" x2="186.98" y2="398.30" stroke="#111" stroke-width="0.8" />
<line x1="185.78" y1="395.30" x2="188.18" y2="395.30" stroke="#111" stroke-width="0.8" />
<line x1="185.78" y1="398.30" x2="188.18" y2="398.30" stroke="#111" stroke-width="0.8" />
<rect x="186.18" y="396.00" width="1.6" height="1.6" fill="#111" opacity="0.8"/>
<line x1="195.06" y1="395.90" x2="195.06" y2="398.90" stroke="#111" stroke-width="0.8" />
<line x1="193.86" y1="395.90" x2="196.26" y2="395.90" stroke="#111" stroke-width="0.8" />
<line x1="193.86" y1="398.90" x2="196.26" y2="398.90" stroke="#111" stroke-width="0.8" />
<rect x="194.26" y="396.60" width="1.6" height="1.6" fill="#111" opacity="0.8"/>
<line x1="203.14" y1="398.30" x2="203.14" y2="400.10" stroke="#111" stroke-width="0.8" />
<line x1="201.94" y1="398.30" x2="204.34" y2="398.30" stroke="#111" stroke-width="0.8" />
<line x1="201.94" y1="400.10" x2="204.34" y2="400.10" stroke="#111" stroke-width="0.8" />
<rect x="202.34" y="398.40" width="1.6" height="1.6" fill="#111" opacity="0.8"/>
<line x1="211.22" y1="397.40" x2="211.22" y2="401.00" stroke="#111" stroke-width="0.8" />
<line x1="210.02" y1="397.40" x2="212.42" y2="397.40" stroke="#111" stroke-width="0.8" />
<line x1="210.02" y1="401.00" x2="212.42" y2="401.00" stroke="#111" stroke-width="0.8" />
<rect x="210.42" y="398.40" width="1.6" height="1.6" fill="#111" opacity="0.8"/>
<line x1="219.30" y1="396.80" x2="219.30" y2="399.20" stroke="#111" stroke-width="0.8" />
<line x1="218.10" y1="396.80" x2="220.50" y2="396.80" stroke="#111" stroke-width="0.8" />
<line x1="218.10" y1="399.20" x2="220.50" y2="399.20" stroke="#111" stroke-width="0.8" />
<rect x="218.50" y="397.20" width="1.6" height="1.6" fill="#111" opacity="0.8"/>
<line x1="227.38" y1="398.60" x2="227.38" y2="401.00" stroke="#111" stroke-width="0.8" />
<line x1="226.18" y1="398.60" x2="228.58" y2="398.60" stroke="#111" stroke-width="0.8" />
<line x1="226.18" y1="401.00" x2="228.58" y2="401.00" stroke="#111" stroke-width="0.8" />
<rect x="226.58" y="399.00" width="1.6" height="1.6" fill="#111" opacity="0.8"/>
<line x1="235.46" y1="398.90" x2="235.46" y2="400.70" stroke="#111" stroke-width="0.8" />
<line x1="234.26" y1="398.90" x2="236.66" y2="398.90" stroke="#111" stroke-width="0.8" />
<line x1="234.26" y1="400.70" x2="236.66" y2="400.70" stroke="#111" stroke-width="0.8" />
<rect x="234.66" y="399.00" width="1.6" height="1.6" fill="#111" opacity="0.8"/>
<line x1="243.54" y1="399.20" x2="243.54" y2="402.80" stroke="#111" stroke-width="0.8" />
<line x1="242.34" y1="399.20" x2="244.74" y2="399.20" stroke="#111" stroke-width="0.8" />
<line x1="242.34" y1="402.80" x2="244.74" y2="402.80" stroke="#111" stroke-width="0.8" />
<rect x="242.74" y="400.20" width="1.6" height="1.6" fill="#111" opacity="0.8"/>
<line x1="178.90" y1="406.40" x2="178.90" y2="411.20" stroke="#111" stroke-width="0.8" />
<line x1="177.70" y1="406.40" x2="180.10" y2="406.40" stroke="#111" stroke-width="0.8" />
<line x1="177.70" y1="411.20" x2="180.10" y2="411.20" stroke="#111" stroke-width="0.8" />
<rect x="178.10" y="408.00" width="1.6" height="1.6" fill="#111" opacity="0.8"/>
<line x1="186.98" y1="408.50" x2="186.98" y2="411.50" stroke="#111" stroke-width="0.8" />
<line x1="185.78" y1="408.50" x2="188.18" y2="408.50" stroke="#111" stroke-width="0.8" />
<line x1="185.78" y1="411.50" x2="188.18" y2="411.50" stroke="#111" stroke-width="0.8" />
<rect x="186.18" y="409.20" width="1.6" height="1.6" fill="#111" opacity="0.8"/>
<line x1="195.06" y1="410.60" x2="195.06" y2="414.20" stroke="#111" stroke-width="0.8" />
<line x1="193.86" y1="410.60" x2="196.26" y2="410.60" stroke="#111" stroke-width="0.8" />
<line x1="193.86" y1="414.20" x2="196.26" y2="414.20" stroke="#111" stroke-width="0.8" />
<rect x="194.26" y="411.60" width="1.6" height="1.6" fill="#111" opacity="0.8"/>
<line x1="203.14" y1="412.70" x2="203.14" y2="416.90" stroke="#111" stroke-width="0.8" />
<line x1="201.94" y1="412.70" x2="204.34" y2="412.70" stroke="#111" stroke-width="0.8" />
<line x1="201.94" y1="416.90" x2="204.34" y2="416.90" stroke="#111" stroke-width="0.8" />
<rect x="202.34" y="414.00" width="1.6" height="1.6" fill="#111" opacity="0.8"/>
<line x1="211.22" y1="418.40" x2="211.22" y2="420.80" stroke="#111" stroke-width="0.8" />
<line x1="210.02" y1="418.40" x2="212.42" y2="418.40" stroke="#111" stroke-width="0.8" />
<line x1="210.02" y1="420.80" x2="212.42" y2="420.80" stroke="#111" stroke-width="0.8" />
<rect x="210.42" y="418.80" width="1.6" height="1.6" fill="#111" opacity="0.8"/>
<line x1="219.30" y1="423.20" x2="219.30" y2="426.80" stroke="#111" stroke-width="0.8" />
<line x1="218.10" y1="423.20" x2="220.50" y2="423.20" stroke="#111" stroke-width="0.8" />
<line x1="218.10" y1="426.80" x2="220.50" y2="426.80" stroke="#111" stroke-width="0.8" />
<rect x="218.50" y="424.20" width="1.6" height="1.6" fill="#111" opacity="0.8"/>
<line x1="227.38" y1="427.10" x2="227.38" y2="432.50" stroke="#111" stroke-width="0.8" />
<line x1="226.18" y1="427.10" x2="228.58" y2="427.10" stroke="#111" stroke-width="0.8" />
<line x1="226.18" y1="432.50" x2="228.58" y2="432.50" stroke="#111" stroke-width="0.8" />
<rect x="226.58" y="429.00" width="1.6" height="1.6" fill="#111" opacity="0.8"/>
<line x1="235.46" y1="432.20" x2="235.46" y2="435.80" stroke="#111" stroke-width="0.8" />
<line x1="234.26" y1="432.20" x2="236.66" y2="432.20" stroke="#111" stroke-width="0.8" />
<line x1="234.26" y1="435.80" x2="236.66" y2="435.80" stroke="#111" stroke-width="0.8" />
<rect x="234.66" y="433.20" width="1.6" height="1.6" fill="#111" opacity="0.8"/>
<line x1="243.54" y1="435.80" x2="243.54" y2="438.20" stroke="#111" stroke-width="0.8" />
<line x1="242.34" y1="435.80" x2="244.74" y2="435.80" stroke="#111" stroke-width="0.8" />
<line x1="242.34" y1="438.20" x2="244.74" y2="438.20" stroke="#111" stroke-width="0.8" />
<rect x="242.74" y="436.20" width="1.6" height="1.6" fill="#111" opacity="0.8"/>
<text transform="translate(181.10,459.40) rotate(-45)" font-size="7.2" text-anchor="end" fill="#222" stroke="#222">0</text>
<text transform="translate(197.26,459.40) rotate(-45)" font-size="7.2" text-anchor="end" fill="#222" stroke="#222">0.001</text>
<text transform="translate(213.42,459.40) rotate(-45)" font-size="7.2" text-anchor="end" fill="#222" stroke="#222">0.01</text>
<text transform="translate(229.58,459.40) rotate(-45)" font-size="7.2" text-anchor="end" fill="#222" stroke="#222">0.1</text>
<text transform="translate(245.74,459.40) rotate(-45)" font-size="7.2" text-anchor="end" fill="#222" stroke="#222">1</text>
<text x="213.00" y="380.75" font-size="7.6" text-anchor="middle" fill="#111" font-weight="normal"  stroke="#111">T47D-TamR</text>
<line x1="250.00" y1="401.50" x2="250.00" y2="436.20" stroke="#888" stroke-width="0.7" />
<polygon points="253.40,417.40 254.02,418.65 255.40,418.85 254.40,419.82 254.63,421.20 253.40,420.55 252.17,421.20 252.40,419.82 251.40,418.85 252.78,418.65" fill="#111"/>
<polygon points="258.20,417.40 258.82,418.65 260.20,418.85 259.20,419.82 259.43,421.20 258.20,420.55 256.97,421.20 257.20,419.82 256.20,418.85 257.58,418.65" fill="#111"/>
<polygon points="263.00,417.40 263.62,418.65 265.00,418.85 264.00,419.82 264.23,421.20 263.00,420.55 261.77,421.20 262.00,419.82 261.00,418.85 262.38,418.65" fill="#111"/>
<rect x="243.60" y="360.60" width="44.80" height="27.20" fill="#fff" stroke="#aaa" stroke-width="0.8" />
<line x1="249.50" y1="368.50" x2="257.60" y2="368.50" stroke="#6189c0" stroke-width="1.0" />
<text x="259.00" y="371.20" font-size="7.6" text-anchor="start" fill="#222" font-weight="normal"  stroke="#222">Vehicle</text>
<line x1="249.50" y1="380.10" x2="257.60" y2="380.10" stroke="#a85052" stroke-width="1.0" />
<text x="259.00" y="382.80" font-size="7.6" text-anchor="start" fill="#222" font-weight="normal"  stroke="#222">VX-702</text>
<text x="305.20" y="270.60" font-size="11.6" text-anchor="start" fill="#000" font-weight="bold"  stroke="#000">G</text>
<line x1="336.20" y1="274.00" x2="336.20" y2="347.00" stroke="#8a8a8a" stroke-width="0.8" />
<line x1="336.20" y1="347.00" x2="409.28" y2="347.00" stroke="#8a8a8a" stroke-width="0.8" />
<text x="333.00" y="287.46" font-size="7.6" text-anchor="end" fill="#222" font-weight="normal"  stroke="#222">1.2</text>
<line x1="335.00" y1="284.72" x2="336.20" y2="284.72" stroke="#8a8a8a" stroke-width="0.6" />
<text x="333.00" y="308.22" font-size="7.6" text-anchor="end" fill="#222" font-weight="normal"  stroke="#222">0.8</text>
<line x1="335.00" y1="305.48" x2="336.20" y2="305.48" stroke="#8a8a8a" stroke-width="0.6" />
<text x="333.00" y="328.98" font-size="7.6" text-anchor="end" fill="#222" font-weight="normal"  stroke="#222">0.4</text>
<line x1="335.00" y1="326.24" x2="336.20" y2="326.24" stroke="#8a8a8a" stroke-width="0.6" />
<text x="333.00" y="349.74" font-size="7.6" text-anchor="end" fill="#222" font-weight="normal"  stroke="#222">0</text>
<line x1="335.00" y1="347.00" x2="336.20" y2="347.00" stroke="#8a8a8a" stroke-width="0.6" />
<line x1="340.00" y1="347.00" x2="340.00" y2="348.30" stroke="#8a8a8a" stroke-width="0.6" />
<line x1="348.16" y1="347.00" x2="348.16" y2="348.30" stroke="#8a8a8a" stroke-width="0.6" />
<line x1="356.32" y1="347.00" x2="356.32" y2="348.30" stroke="#8a8a8a" stroke-width="0.6" />
<line x1="364.48" y1="347.00" x2="364.48" y2="348.30" stroke="#8a8a8a" stroke-width="0.6" />
<line x1="372.64" y1="347.00" x2="372.64" y2="348.30" stroke="#8a8a8a" stroke-width="0.6" />
<line x1="380.80" y1="347.00" x2="380.80" y2="348.30" stroke="#8a8a8a" stroke-width="0.6" />
<line x1="388.96" y1="347.00" x2="388.96" y2="348.30" stroke="#8a8a8a" stroke-width="0.6" />
<line x1="397.12" y1="347.00" x2="397.12" y2="348.30" stroke="#8a8a8a" stroke-width="0.6" />
<line x1="405.28" y1="347.00" x2="405.28" y2="348.30" stroke="#8a8a8a" stroke-width="0.6" />
<polyline points="340.00,294.06 348.16,299.25 356.32,300.29 364.48,301.85 372.64,301.85 380.80,301.85 388.96,302.37 397.12,302.88 405.28,304.44" stroke="#6189c0" stroke-width="1.0" fill="none"  stroke-linejoin="round"/>
<polyline points="340.00,292.50 348.16,296.14 356.32,296.66 364.48,299.25 372.64,301.33 380.80,301.85 388.96,302.37 397.12,302.88 405.28,303.92" stroke="#7da6d8" stroke-width="1.0" fill="none" stroke-dasharray="2.2,1.4" stroke-linejoin="round"/>
<polyline points="340.00,289.91 348.16,290.95 356.32,292.50 364.48,294.06 372.64,298.73 380.80,301.33 388.96,301.85 397.12,302.88 405.28,304.44" stroke="#c06a6a" stroke-width="1.0" fill="none" stroke-dasharray="2.2,1.4" stroke-linejoin="round"/>
<polyline points="340.00,311.19 348.16,313.78 356.32,315.34 364.48,317.42 372.64,319.49 380.80,320.01 388.96,320.53 397.12,321.57 405.28,322.61" stroke="#a85052" stroke-width="1.0" fill="none"  stroke-linejoin="round"/>
<line x1="340.00" y1="288.87" x2="340.00" y2="301.85" stroke="#111" stroke-width="0.8" />
<line x1="338.80" y1="288.87" x2="341.20" y2="288.87" stroke="#111" stroke-width="0.8" />
<line x1="338.80" y1="301.85" x2="341.20" y2="301.85" stroke="#111" stroke-width="0.8" />
<rect x="339.20" y="293.26" width="1.6" height="1.6" fill="#111" opacity="0.8"/>
<line x1="348.16" y1="282.12" x2="348.16" y2="302.88" stroke="#111" stroke-width="0.8" />
<line x1="346.96" y1="282.12" x2="349.36" y2="282.12" stroke="#111" stroke-width="0.8" />
<line x1="346.96" y1="302.88" x2="349.36" y2="302.88" stroke="#111" stroke-width="0.8" />
<rect x="347.36" y="298.45" width="1.6" height="1.6" fill="#111" opacity="0.8"/>
<line x1="356.32" y1="277.97" x2="356.32" y2="309.11" stroke="#111" stroke-width="0.8" />
<line x1="355.12" y1="277.97" x2="357.52" y2="277.97" stroke="#111" stroke-width="0.8" />
<line x1="355.12" y1="309.11" x2="357.52" y2="309.11" stroke="#111" stroke-width="0.8" />
<rect x="355.52" y="299.49" width="1.6" height="1.6" fill="#111" opacity="0.8"/>
<line x1="364.48" y1="288.35" x2="364.48" y2="305.48" stroke="#111" stroke-width="0.8" />
<line x1="363.28" y1="288.35" x2="365.68" y2="288.35" stroke="#111" stroke-width="0.8" />
<line x1="363.28" y1="305.48" x2="365.68" y2="305.48" stroke="#111" stroke-width="0.8" />
<rect x="363.68" y="301.05" width="1.6" height="1.6" fill="#111" opacity="0.8"/>
<line x1="372.64" y1="295.10" x2="372.64" y2="306.00" stroke="#111" stroke-width="0.8" />
<line x1="371.44" y1="295.10" x2="373.84" y2="295.10" stroke="#111" stroke-width="0.8" />
<line x1="371.44" y1="306.00" x2="373.84" y2="306.00" stroke="#111" stroke-width="0.8" />
<rect x="371.84" y="301.05" width="1.6" height="1.6" fill="#111" opacity="0.8"/>
<line x1="380.80" y1="298.73" x2="380.80" y2="305.48" stroke="#111" stroke-width="0.8" />
<line x1="379.60" y1="298.73" x2="382.00" y2="298.73" stroke="#111" stroke-width="0.8" />
<line x1="379.60" y1="305.48" x2="382.00" y2="305.48" stroke="#111" stroke-width="0.8" />
<rect x="380.00" y="301.05" width="1.6" height="1.6" fill="#111" opacity="0.8"/>
<line x1="388.96" y1="297.69" x2="388.96" y2="307.04" stroke="#111" stroke-width="0.8" />
<line x1="387.76" y1="297.69" x2="390.16" y2="297.69" stroke="#111" stroke-width="0.8" />
<line x1="387.76" y1="307.04" x2="390.16" y2="307.04" stroke="#111" stroke-width="0.8" />
<rect x="388.16" y="301.57" width="1.6" height="1.6" fill="#111" opacity="0.8"/>
<line x1="397.12" y1="297.69" x2="397.12" y2="308.07" stroke="#111" stroke-width="0.8" />
<line x1="395.92" y1="297.69" x2="398.32" y2="297.69" stroke="#111" stroke-width="0.8" />
<line x1="395.92" y1="308.07" x2="398.32" y2="308.07" stroke="#111" stroke-width="0.8" />
<rect x="396.32" y="302.08" width="1.6" height="1.6" fill="#111" opacity="0.8"/>
<line x1="405.28" y1="299.25" x2="405.28" y2="309.63" stroke="#111" stroke-width="0.8" />
<line x1="404.08" y1="299.25" x2="406.48" y2="299.25" stroke="#111" stroke-width="0.8" />
<line x1="404.08" y1="309.63" x2="406.48" y2="309.63" stroke="#111" stroke-width="0.8" />
<rect x="404.48" y="303.64" width="1.6" height="1.6" fill="#111" opacity="0.8"/>
<line x1="340.00" y1="309.63" x2="340.00" y2="312.75" stroke="#111" stroke-width="0.8" />
<line x1="338.80" y1="309.63" x2="341.20" y2="309.63" stroke="#111" stroke-width="0.8" />
<line x1="338.80" y1="312.75" x2="341.20" y2="312.75" stroke="#111" stroke-width="0.8" />
<rect x="339.20" y="310.39" width="1.6" height="1.6" fill="#111" opacity="0.8"/>
<line x1="348.16" y1="312.49" x2="348.16" y2="315.08" stroke="#111" stroke-width="0.8" />
<line x1="346.96" y1="312.49" x2="349.36" y2="312.49" stroke="#111" stroke-width="0.8" />
<line x1="346.96" y1="315.08" x2="349.36" y2="315.08" stroke="#111" stroke-width="0.8" />
<rect x="347.36" y="312.98" width="1.6" height="1.6" fill="#111" opacity="0.8"/>
<line x1="356.32" y1="314.04" x2="356.32" y2="316.64" stroke="#111" stroke-width="0.8" />
<line x1="355.12" y1="314.04" x2="357.52" y2="314.04" stroke="#111" stroke-width="0.8" />
<line x1="355.12" y1="316.64" x2="357.52" y2="316.64" stroke="#111" stroke-width="0.8" />
<rect x="355.52" y="314.54" width="1.6" height="1.6" fill="#111" opacity="0.8"/>
<line x1="364.48" y1="316.38" x2="364.48" y2="318.45" stroke="#111" stroke-width="0.8" />
<line x1="363.28" y1="316.38" x2="365.68" y2="316.38" stroke="#111" stroke-width="0.8" />
<line x1="363.28" y1="318.45" x2="365.68" y2="318.45" stroke="#111" stroke-width="0.8" />
<rect x="363.68" y="316.62" width="1.6" height="1.6" fill="#111" opacity="0.8"/>
<line x1="372.64" y1="318.71" x2="372.64" y2="320.27" stroke="#111" stroke-width="0.8" />
<line x1="371.44" y1="318.71" x2="373.84" y2="318.71" stroke="#111" stroke-width="0.8" />
<line x1="371.44" y1="320.27" x2="373.84" y2="320.27" stroke="#111" stroke-width="0.8" />
<rect x="371.84" y="318.69" width="1.6" height="1.6" fill="#111" opacity="0.8"/>
<line x1="380.80" y1="318.97" x2="380.80" y2="321.05" stroke="#111" stroke-width="0.8" />
<line x1="379.60" y1="318.97" x2="382.00" y2="318.97" stroke="#111" stroke-width="0.8" />
<line x1="379.60" y1="321.05" x2="382.00" y2="321.05" stroke="#111" stroke-width="0.8" />
<rect x="380.00" y="319.21" width="1.6" height="1.6" fill="#111" opacity="0.8"/>
<line x1="388.96" y1="319.49" x2="388.96" y2="321.57" stroke="#111" stroke-width="0.8" />
<line x1="387.76" y1="319.49" x2="390.16" y2="319.49" stroke="#111" stroke-width="0.8" />
<line x1="387.76" y1="321.57" x2="390.16" y2="321.57" stroke="#111" stroke-width="0.8" />
<rect x="388.16" y="319.73" width="1.6" height="1.6" fill="#111" opacity="0.8"/>
<line x1="397.12" y1="320.27" x2="397.12" y2="322.87" stroke="#111" stroke-width="0.8" />
<line x1="395.92" y1="320.27" x2="398.32" y2="320.27" stroke="#111" stroke-width="0.8" />
<line x1="395.92" y1="322.87" x2="398.32" y2="322.87" stroke="#111" stroke-width="0.8" />
<rect x="396.32" y="320.77" width="1.6" height="1.6" fill="#111" opacity="0.8"/>
<line x1="405.28" y1="321.05" x2="405.28" y2="324.16" stroke="#111" stroke-width="0.8" />
<line x1="404.08" y1="321.05" x2="406.48" y2="321.05" stroke="#111" stroke-width="0.8" />
<line x1="404.08" y1="324.16" x2="406.48" y2="324.16" stroke="#111" stroke-width="0.8" />
<rect x="404.48" y="321.81" width="1.6" height="1.6" fill="#111" opacity="0.8"/>
<text transform="translate(341.50,351.20) rotate(-45)" font-size="7.0" text-anchor="end" fill="#222" stroke="#222">0</text>
<text transform="translate(357.82,351.20) rotate(-45)" font-size="7.0" text-anchor="end" fill="#222" stroke="#222">0.001</text>
<text transform="translate(374.14,351.20) rotate(-45)" font-size="7.0" text-anchor="end" fill="#222" stroke="#222">0.01</text>
<text transform="translate(390.46,351.20) rotate(-45)" font-size="7.0" text-anchor="end" fill="#222" stroke="#222">0.1</text>
<text transform="translate(406.78,351.20) rotate(-45)" font-size="7.0" text-anchor="end" fill="#222" stroke="#222">1</text>
<text x="411.60" y="279.80" font-size="7.6" text-anchor="middle" fill="#111" font-weight="normal"  stroke="#111">MCF7-TamR</text>
<text x="432.00" y="305.70" font-size="7.6" text-anchor="end" fill="#222" font-weight="normal"  stroke="#222">-dox</text>
<text x="432.00" y="328.10" font-size="7.6" text-anchor="end" fill="#222" font-weight="normal"  stroke="#222">+dox</text>
<line x1="433.60" y1="293.90" x2="433.60" y2="311.70" stroke="#666" stroke-width="0.7" />
<line x1="433.60" y1="317.60" x2="433.60" y2="335.20" stroke="#666" stroke-width="0.7" />
<line x1="436.40" y1="297.70" x2="443.60" y2="297.70" stroke="#6189c0" stroke-width="1.0" />
<text x="445.60" y="300.40" font-size="7.6" text-anchor="start" fill="#222" font-weight="normal"  stroke="#222">Vehicle</text>
<line x1="436.40" y1="308.50" x2="443.60" y2="308.50" stroke="#a85052" stroke-width="1.0" />
<text x="445.60" y="311.20" font-size="7.6" text-anchor="start" fill="#222" font-weight="normal"  stroke="#222">VX-702</text>
<line x1="436.40" y1="320.80" x2="443.60" y2="320.80" stroke="#6189c0" stroke-width="1.0" stroke-dasharray="2.4,2.2"/>
<text x="445.60" y="323.50" font-size="7.6" text-anchor="start" fill="#222" font-weight="normal"  stroke="#222">Vehicle</text>
<line x1="436.40" y1="330.70" x2="443.60" y2="330.70" stroke="#a85052" stroke-width="1.0" stroke-dasharray="2.4,2.2"/>
<text x="445.60" y="333.40" font-size="7.6" text-anchor="start" fill="#222" font-weight="normal"  stroke="#222">VX-702</text>
<line x1="477.00" y1="297.70" x2="477.00" y2="308.50" stroke="#777" stroke-width="0.8" />
<line x1="475.60" y1="297.70" x2="477.00" y2="297.70" stroke="#777" stroke-width="0.8" />
<line x1="475.60" y1="308.50" x2="477.00" y2="308.50" stroke="#777" stroke-width="0.8" />
<rect x="479.40" y="299.65" width="1.7" height="1.7" fill="#333"/>
<rect x="479.40" y="302.25" width="1.7" height="1.7" fill="#333"/>
<rect x="479.40" y="304.85" width="1.7" height="1.7" fill="#333"/>
<line x1="477.00" y1="310.10" x2="477.00" y2="320.80" stroke="#777" stroke-width="0.8" />
<line x1="475.60" y1="310.10" x2="477.00" y2="310.10" stroke="#777" stroke-width="0.8" />
<line x1="475.60" y1="320.80" x2="477.00" y2="320.80" stroke="#777" stroke-width="0.8" />
<rect x="479.40" y="312.00" width="1.7" height="1.7" fill="#333"/>
<rect x="479.40" y="314.60" width="1.7" height="1.7" fill="#333"/>
<rect x="479.40" y="317.20" width="1.7" height="1.7" fill="#333"/>
<line x1="484.00" y1="310.10" x2="484.00" y2="330.70" stroke="#777" stroke-width="0.8" />
<line x1="482.60" y1="310.10" x2="484.00" y2="310.10" stroke="#777" stroke-width="0.8" />
<line x1="482.60" y1="330.70" x2="484.00" y2="330.70" stroke="#777" stroke-width="0.8" />
<rect x="486.40" y="316.95" width="1.7" height="1.7" fill="#333"/>
<rect x="486.40" y="319.55" width="1.7" height="1.7" fill="#333"/>
<rect x="486.40" y="322.15" width="1.7" height="1.7" fill="#333"/>
<text transform="translate(314.6,315) rotate(-90)" font-size="7.6" text-anchor="middle" fill="#222" stroke="#222">Relative viability</text>
<text x="372.20" y="374.60" font-size="7.6" text-anchor="middle" fill="#111" font-weight="normal"  stroke="#111">4-hydroxytamoxifen (µmol/L)</text>
<line x1="337.00" y1="386.50" x2="337.00" y2="459.50" stroke="#8a8a8a" stroke-width="0.8" />
<line x1="337.00" y1="459.50" x2="410.56" y2="459.50" stroke="#8a8a8a" stroke-width="0.8" />
<text x="333.80" y="395.88" font-size="7.6" text-anchor="end" fill="#222" font-weight="normal"  stroke="#222">1.2</text>
<line x1="335.80" y1="393.14" x2="337.00" y2="393.14" stroke="#8a8a8a" stroke-width="0.6" />
<text x="333.80" y="418.00" font-size="7.6" text-anchor="end" fill="#222" font-weight="normal"  stroke="#222">0.8</text>
<line x1="335.80" y1="415.26" x2="337.00" y2="415.26" stroke="#8a8a8a" stroke-width="0.6" />
<text x="333.80" y="440.12" font-size="7.6" text-anchor="end" fill="#222" font-weight="normal"  stroke="#222">0.4</text>
<line x1="335.80" y1="437.38" x2="337.00" y2="437.38" stroke="#8a8a8a" stroke-width="0.6" />
<text x="333.80" y="462.24" font-size="7.6" text-anchor="end" fill="#222" font-weight="normal"  stroke="#222">0</text>
<line x1="335.80" y1="459.50" x2="337.00" y2="459.50" stroke="#8a8a8a" stroke-width="0.6" />
<line x1="341.20" y1="459.50" x2="341.20" y2="460.80" stroke="#8a8a8a" stroke-width="0.6" />
<line x1="349.37" y1="459.50" x2="349.37" y2="460.80" stroke="#8a8a8a" stroke-width="0.6" />
<line x1="357.54" y1="459.50" x2="357.54" y2="460.80" stroke="#8a8a8a" stroke-width="0.6" />
<line x1="365.71" y1="459.50" x2="365.71" y2="460.80" stroke="#8a8a8a" stroke-width="0.6" />
<line x1="373.88" y1="459.50" x2="373.88" y2="460.80" stroke="#8a8a8a" stroke-width="0.6" />
<line x1="382.05" y1="459.50" x2="382.05" y2="460.80" stroke="#8a8a8a" stroke-width="0.6" />
<line x1="390.22" y1="459.50" x2="390.22" y2="460.80" stroke="#8a8a8a" stroke-width="0.6" />
<line x1="398.39" y1="459.50" x2="398.39" y2="460.80" stroke="#8a8a8a" stroke-width="0.6" />
<line x1="406.56" y1="459.50" x2="406.56" y2="460.80" stroke="#8a8a8a" stroke-width="0.6" />
<polyline points="341.20,402.54 349.37,404.20 357.54,403.09 365.71,403.65 373.88,404.75 382.05,402.54 390.22,402.54 398.39,402.54 406.56,400.88" stroke="#6189c0" stroke-width="1.0" fill="none"  stroke-linejoin="round"/>
<polyline points="341.20,403.09 349.37,402.54 357.54,403.09 365.71,403.09 373.88,404.20 382.05,403.09 390.22,403.65 398.39,405.31 406.56,399.78" stroke="#7da6d8" stroke-width="1.0" fill="none" stroke-dasharray="2.2,1.4" stroke-linejoin="round"/>
<polyline points="341.20,398.12 349.37,400.33 357.54,401.44 365.71,400.33 373.88,402.54 382.05,401.44 390.22,402.54 398.39,404.20 406.56,398.67" stroke="#c06a6a" stroke-width="1.0" fill="none" stroke-dasharray="2.2,1.4" stroke-linejoin="round"/>
<polyline points="341.20,411.94 349.37,412.50 357.54,414.71 365.71,415.81 373.88,419.68 382.05,420.79 390.22,422.45 398.39,423.56 406.56,429.08" stroke="#a85052" stroke-width="1.0" fill="none"  stroke-linejoin="round"/>
<line x1="341.20" y1="395.91" x2="341.20" y2="409.18" stroke="#111" stroke-width="0.8" />
<line x1="340.00" y1="395.91" x2="342.40" y2="395.91" stroke="#111" stroke-width="0.8" />
<line x1="340.00" y1="409.18" x2="342.40" y2="409.18" stroke="#111" stroke-width="0.8" />
<rect x="340.40" y="401.74" width="1.6" height="1.6" fill="#111" opacity="0.8"/>
<line x1="349.37" y1="397.01" x2="349.37" y2="408.62" stroke="#111" stroke-width="0.8" />
<line x1="348.17" y1="397.01" x2="350.57" y2="397.01" stroke="#111" stroke-width="0.8" />
<line x1="348.17" y1="408.62" x2="350.57" y2="408.62" stroke="#111" stroke-width="0.8" />
<rect x="348.57" y="403.40" width="1.6" height="1.6" fill="#111" opacity="0.8"/>
<line x1="357.54" y1="399.22" x2="357.54" y2="408.07" stroke="#111" stroke-width="0.8" />
<line x1="356.34" y1="399.22" x2="358.74" y2="399.22" stroke="#111" stroke-width="0.8" />
<line x1="356.34" y1="408.07" x2="358.74" y2="408.07" stroke="#111" stroke-width="0.8" />
<rect x="356.74" y="402.29" width="1.6" height="1.6" fill="#111" opacity="0.8"/>
<line x1="365.71" y1="393.14" x2="365.71" y2="408.62" stroke="#111" stroke-width="0.8" />
<line x1="364.51" y1="393.14" x2="366.91" y2="393.14" stroke="#111" stroke-width="0.8" />
<line x1="364.51" y1="408.62" x2="366.91" y2="408.62" stroke="#111" stroke-width="0.8" />
<rect x="364.91" y="402.85" width="1.6" height="1.6" fill="#111" opacity="0.8"/>
<line x1="373.88" y1="399.22" x2="373.88" y2="408.62" stroke="#111" stroke-width="0.8" />
<line x1="372.68" y1="399.22" x2="375.08" y2="399.22" stroke="#111" stroke-width="0.8" />
<line x1="372.68" y1="408.62" x2="375.08" y2="408.62" stroke="#111" stroke-width="0.8" />
<rect x="373.08" y="403.95" width="1.6" height="1.6" fill="#111" opacity="0.8"/>
<line x1="382.05" y1="394.80" x2="382.05" y2="408.62" stroke="#111" stroke-width="0.8" />
<line x1="380.85" y1="394.80" x2="383.25" y2="394.80" stroke="#111" stroke-width="0.8" />
<line x1="380.85" y1="408.62" x2="383.25" y2="408.62" stroke="#111" stroke-width="0.8" />
<rect x="381.25" y="401.74" width="1.6" height="1.6" fill="#111" opacity="0.8"/>
<line x1="390.22" y1="395.91" x2="390.22" y2="409.73" stroke="#111" stroke-width="0.8" />
<line x1="389.02" y1="395.91" x2="391.42" y2="395.91" stroke="#111" stroke-width="0.8" />
<line x1="389.02" y1="409.73" x2="391.42" y2="409.73" stroke="#111" stroke-width="0.8" />
<rect x="389.42" y="401.74" width="1.6" height="1.6" fill="#111" opacity="0.8"/>
<line x1="398.39" y1="397.56" x2="398.39" y2="414.15" stroke="#111" stroke-width="0.8" />
<line x1="397.19" y1="397.56" x2="399.59" y2="397.56" stroke="#111" stroke-width="0.8" />
<line x1="397.19" y1="414.15" x2="399.59" y2="414.15" stroke="#111" stroke-width="0.8" />
<rect x="397.59" y="401.74" width="1.6" height="1.6" fill="#111" opacity="0.8"/>
<line x1="406.56" y1="393.69" x2="406.56" y2="403.09" stroke="#111" stroke-width="0.8" />
<line x1="405.36" y1="393.69" x2="407.76" y2="393.69" stroke="#111" stroke-width="0.8" />
<line x1="405.36" y1="403.09" x2="407.76" y2="403.09" stroke="#111" stroke-width="0.8" />
<rect x="405.76" y="400.08" width="1.6" height="1.6" fill="#111" opacity="0.8"/>
<line x1="341.20" y1="410.56" x2="341.20" y2="413.32" stroke="#111" stroke-width="0.8" />
<line x1="340.00" y1="410.56" x2="342.40" y2="410.56" stroke="#111" stroke-width="0.8" />
<line x1="340.00" y1="413.32" x2="342.40" y2="413.32" stroke="#111" stroke-width="0.8" />
<rect x="340.40" y="411.14" width="1.6" height="1.6" fill="#111" opacity="0.8"/>
<line x1="349.37" y1="411.11" x2="349.37" y2="413.88" stroke="#111" stroke-width="0.8" />
<line x1="348.17" y1="411.11" x2="350.57" y2="411.11" stroke="#111" stroke-width="0.8" />
<line x1="348.17" y1="413.88" x2="350.57" y2="413.88" stroke="#111" stroke-width="0.8" />
<rect x="348.57" y="411.69" width="1.6" height="1.6" fill="#111" opacity="0.8"/>
<line x1="357.54" y1="413.05" x2="357.54" y2="416.37" stroke="#111" stroke-width="0.8" />
<line x1="356.34" y1="413.05" x2="358.74" y2="413.05" stroke="#111" stroke-width="0.8" />
<line x1="356.34" y1="416.37" x2="358.74" y2="416.37" stroke="#111" stroke-width="0.8" />
<rect x="356.74" y="413.91" width="1.6" height="1.6" fill="#111" opacity="0.8"/>
<line x1="365.71" y1="413.60" x2="365.71" y2="418.02" stroke="#111" stroke-width="0.8" />
<line x1="364.51" y1="413.60" x2="366.91" y2="413.60" stroke="#111" stroke-width="0.8" />
<line x1="364.51" y1="418.02" x2="366.91" y2="418.02" stroke="#111" stroke-width="0.8" />
<rect x="364.91" y="415.01" width="1.6" height="1.6" fill="#111" opacity="0.8"/>
<line x1="373.88" y1="418.30" x2="373.88" y2="421.07" stroke="#111" stroke-width="0.8" />
<line x1="372.68" y1="418.30" x2="375.08" y2="418.30" stroke="#111" stroke-width="0.8" />
<line x1="372.68" y1="421.07" x2="375.08" y2="421.07" stroke="#111" stroke-width="0.8" />
<rect x="373.08" y="418.88" width="1.6" height="1.6" fill="#111" opacity="0.8"/>
<line x1="382.05" y1="419.41" x2="382.05" y2="422.17" stroke="#111" stroke-width="0.8" />
<line x1="380.85" y1="419.41" x2="383.25" y2="419.41" stroke="#111" stroke-width="0.8" />
<line x1="380.85" y1="422.17" x2="383.25" y2="422.17" stroke="#111" stroke-width="0.8" />
<rect x="381.25" y="419.99" width="1.6" height="1.6" fill="#111" opacity="0.8"/>
<line x1="390.22" y1="420.79" x2="390.22" y2="424.11" stroke="#111" stroke-width="0.8" />
<line x1="389.02" y1="420.79" x2="391.42" y2="420.79" stroke="#111" stroke-width="0.8" />
<line x1="389.02" y1="424.11" x2="391.42" y2="424.11" stroke="#111" stroke-width="0.8" />
<rect x="389.42" y="421.65" width="1.6" height="1.6" fill="#111" opacity="0.8"/>
<line x1="398.39" y1="421.34" x2="398.39" y2="425.77" stroke="#111" stroke-width="0.8" />
<line x1="397.19" y1="421.34" x2="399.59" y2="421.34" stroke="#111" stroke-width="0.8" />
<line x1="397.19" y1="425.77" x2="399.59" y2="425.77" stroke="#111" stroke-width="0.8" />
<rect x="397.59" y="422.75" width="1.6" height="1.6" fill="#111" opacity="0.8"/>
<line x1="406.56" y1="427.70" x2="406.56" y2="430.47" stroke="#111" stroke-width="0.8" />
<line x1="405.36" y1="427.70" x2="407.76" y2="427.70" stroke="#111" stroke-width="0.8" />
<line x1="405.36" y1="430.47" x2="407.76" y2="430.47" stroke="#111" stroke-width="0.8" />
<rect x="405.76" y="428.28" width="1.6" height="1.6" fill="#111" opacity="0.8"/>
<text transform="translate(342.70,463.70) rotate(-45)" font-size="7.0" text-anchor="end" fill="#222" stroke="#222">0</text>
<text transform="translate(359.04,463.70) rotate(-45)" font-size="7.0" text-anchor="end" fill="#222" stroke="#222">0.001</text>
<text transform="translate(375.38,463.70) rotate(-45)" font-size="7.0" text-anchor="end" fill="#222" stroke="#222">0.01</text>
<text transform="translate(391.72,463.70) rotate(-45)" font-size="7.0" text-anchor="end" fill="#222" stroke="#222">0.1</text>
<text transform="translate(408.06,463.70) rotate(-45)" font-size="7.0" text-anchor="end" fill="#222" stroke="#222">1</text>
<text x="422.00" y="388.20" font-size="7.6" text-anchor="middle" fill="#111" font-weight="normal"  stroke="#111">T47D-TamR</text>
<text x="432.00" y="416.90" font-size="7.6" text-anchor="end" fill="#222" font-weight="normal"  stroke="#222">-dox</text>
<text x="432.00" y="440.50" font-size="7.6" text-anchor="end" fill="#222" font-weight="normal"  stroke="#222">+dox</text>
<line x1="433.60" y1="405.40" x2="433.60" y2="423.20" stroke="#666" stroke-width="0.7" />
<line x1="433.60" y1="428.30" x2="433.60" y2="446.90" stroke="#666" stroke-width="0.7" />
<line x1="436.40" y1="409.20" x2="443.60" y2="409.20" stroke="#6189c0" stroke-width="1.0" />
<text x="445.60" y="411.90" font-size="7.6" text-anchor="start" fill="#222" font-weight="normal"  stroke="#222">Vehicle</text>
<line x1="436.40" y1="420.00" x2="443.60" y2="420.00" stroke="#a85052" stroke-width="1.0" />
<text x="445.60" y="422.70" font-size="7.6" text-anchor="start" fill="#222" font-weight="normal"  stroke="#222">VX-702</text>
<line x1="436.40" y1="431.50" x2="443.60" y2="431.50" stroke="#6189c0" stroke-width="1.0" stroke-dasharray="2.4,2.2"/>
<text x="445.60" y="434.20" font-size="7.6" text-anchor="start" fill="#222" font-weight="normal"  stroke="#222">Vehicle</text>
<line x1="436.40" y1="442.40" x2="443.60" y2="442.40" stroke="#a85052" stroke-width="1.0" stroke-dasharray="2.4,2.2"/>
<text x="445.60" y="445.10" font-size="7.6" text-anchor="start" fill="#222" font-weight="normal"  stroke="#222">VX-702</text>
<line x1="475.80" y1="409.20" x2="475.80" y2="420.00" stroke="#777" stroke-width="0.8" />
<line x1="474.40" y1="409.20" x2="475.80" y2="409.20" stroke="#777" stroke-width="0.8" />
<line x1="474.40" y1="420.00" x2="475.80" y2="420.00" stroke="#777" stroke-width="0.8" />
<rect x="478.20" y="411.15" width="1.7" height="1.7" fill="#333"/>
<rect x="478.20" y="413.75" width="1.7" height="1.7" fill="#333"/>
<rect x="478.20" y="416.35" width="1.7" height="1.7" fill="#333"/>
<line x1="475.80" y1="421.60" x2="475.80" y2="431.50" stroke="#777" stroke-width="0.8" />
<line x1="474.40" y1="421.60" x2="475.80" y2="421.60" stroke="#777" stroke-width="0.8" />
<line x1="474.40" y1="431.50" x2="475.80" y2="431.50" stroke="#777" stroke-width="0.8" />
<rect x="478.20" y="423.10" width="1.7" height="1.7" fill="#333"/>
<rect x="478.20" y="425.70" width="1.7" height="1.7" fill="#333"/>
<rect x="478.20" y="428.30" width="1.7" height="1.7" fill="#333"/>
<line x1="482.80" y1="421.60" x2="482.80" y2="442.40" stroke="#777" stroke-width="0.8" />
<line x1="481.40" y1="421.60" x2="482.80" y2="421.60" stroke="#777" stroke-width="0.8" />
<line x1="481.40" y1="442.40" x2="482.80" y2="442.40" stroke="#777" stroke-width="0.8" />
<rect x="485.20" y="428.55" width="1.7" height="1.7" fill="#333"/>
<rect x="485.20" y="431.15" width="1.7" height="1.7" fill="#333"/>
<rect x="485.20" y="433.75" width="1.7" height="1.7" fill="#333"/>
<text transform="translate(316.4,423) rotate(-90)" font-size="7.6" text-anchor="middle" fill="#222" stroke="#222">Relative viability</text>
<text x="373.00" y="487.60" font-size="7.6" text-anchor="middle" fill="#111" font-weight="normal"  stroke="#111">4-hydroxytamoxifen (µmol/L)</text>
</svg></body></html>
